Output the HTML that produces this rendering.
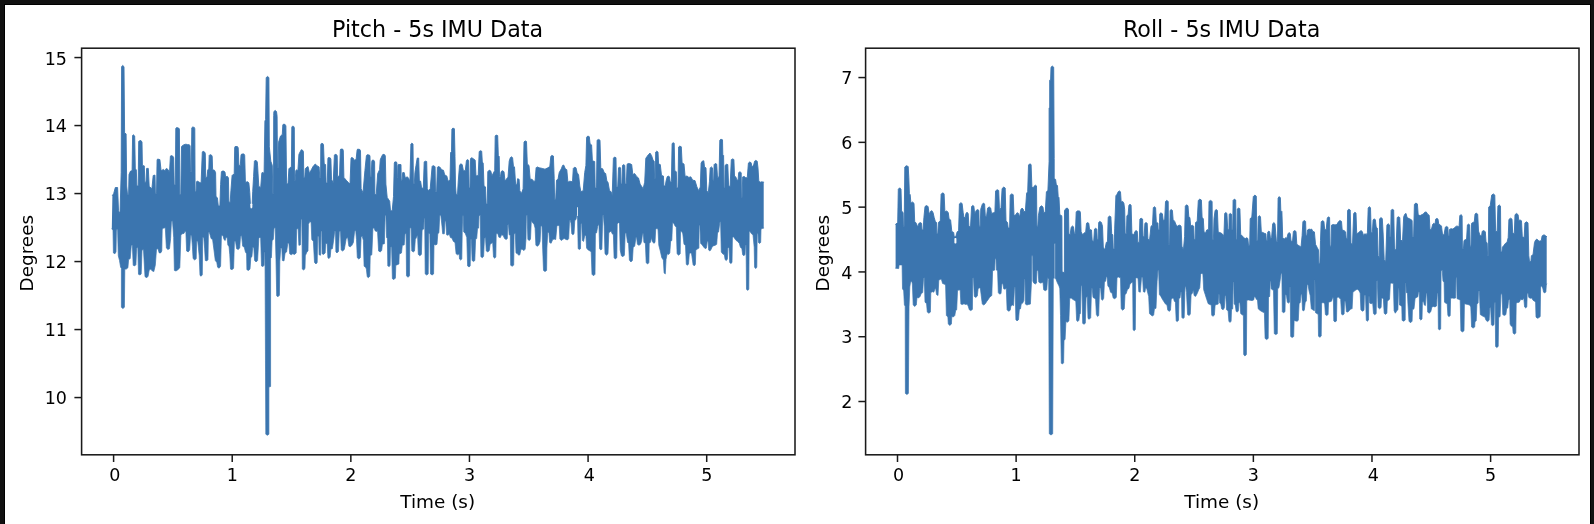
<!DOCTYPE html>
<html lang="en"><head><meta charset="utf-8"><title>IMU Data - Pitch and Roll</title>
<style>
html,body{margin:0;padding:0;background:#111111;width:1594px;height:524px;overflow:hidden}
svg{display:block;filter:blur(0.4px)}
text{font-family:"DejaVu Sans","Liberation Sans",sans-serif;fill:#000000}
.tl{font-size:18.4px}
.tn{font-size:17.5px}
.tt{font-size:22.22px}
.tk{stroke:#1a1a1a;stroke-width:1.5}
.sp{fill:none;stroke:#1a1a1a;stroke-width:1.55}
.sig{fill:#3b75af;stroke:none}
.edge{fill:none;stroke:#3b75af;stroke-linejoin:round;stroke-linecap:round}
</style></head>
<body>
<svg width="1594" height="524" viewBox="0 0 1594 524">
<rect x="0" y="0" width="1594" height="524" fill="#111111"/>
<rect x="4" y="4" width="1587" height="522" fill="#000000"/>
<rect x="5" y="5" width="1585" height="521" fill="#ffffff"/>
<polygon points="112.4,195.5 113.7,193.6 115.3,187.5 117.6,187.5 118.5,210.8 120.0,213.6 121.2,172.6 121.6,66.7 122.7,65.4 124.0,66.7 124.6,132.9 126.1,133.9 126.7,186.0 127.5,194.6 128.6,194.6 129.0,174.5 130.5,171.1 132.1,170.7 132.6,135.4 133.4,134.8 134.7,136.0 135.3,168.8 136.3,169.7 136.9,186.0 138.2,186.0 138.7,141.5 139.5,140.7 141.0,140.6 142.0,142.1 142.4,165.4 144.3,165.9 144.8,182.2 146.0,182.2 146.6,168.4 148.3,168.4 149.2,186.4 151.9,188.8 153.2,175.5 155.0,175.1 155.4,193.6 156.5,193.6 157.1,159.6 157.8,159.1 159.9,159.6 161.1,170.7 163.5,169.4 164.9,170.7 166.4,168.4 167.9,169.4 169.5,172.6 170.4,156.2 171.0,155.6 172.9,156.2 173.7,157.7 174.2,185.0 175.3,185.0 175.8,128.3 176.7,127.6 178.6,128.0 179.4,129.1 179.8,194.6 180.8,194.6 181.5,146.8 182.1,145.9 184.0,144.7 185.9,144.2 187.8,144.7 189.3,144.7 190.1,145.9 190.5,171.7 191.3,171.7 191.8,127.8 192.7,127.0 194.3,127.4 194.8,128.7 195.1,191.7 196.0,191.7 196.6,181.8 197.3,181.0 199.2,182.2 201.1,183.1 202.3,152.0 203.1,151.2 204.6,152.0 205.3,153.5 205.7,177.4 207.0,177.4 207.8,169.7 208.8,168.8 209.2,155.4 209.9,154.7 211.5,155.1 212.2,156.4 212.6,169.7 214.5,170.3 215.6,172.6 216.0,196.5 217.4,197.8 218.3,206.0 219.9,206.0 220.6,184.4 221.4,171.8 222.1,171.1 224.0,171.1 225.0,172.2 225.6,176.8 227.5,176.4 228.4,178.0 228.9,202.2 230.2,202.2 230.9,190.7 232.1,175.5 232.8,174.7 234.2,174.3 234.7,147.4 235.1,146.5 237.4,146.5 238.2,147.8 238.9,165.4 240.3,165.4 241.0,155.1 241.6,154.1 243.9,153.9 244.7,155.4 245.4,182.2 247.9,181.8 248.9,183.3 249.8,192.7 250.6,208.9 252.0,208.9 252.7,191.7 253.6,176.4 254.4,161.2 255.0,160.4 256.5,160.8 257.3,162.1 257.6,165.9 258.8,186.4 260.7,187.5 261.8,173.2 262.2,172.4 264.1,173.2 264.9,121.1 265.6,119.6 266.2,77.6 267.6,76.4 268.9,77.6 269.3,146.8 270.8,161.2 272.3,165.4 272.8,193.6 273.5,193.6 273.7,115.4 273.9,111.5 275.2,110.4 276.5,111.5 277.1,116.3 277.5,167.8 278.2,167.8 278.6,142.1 279.0,140.7 280.5,136.0 282.3,134.4 282.8,124.9 283.6,124.1 285.1,124.5 285.9,125.9 286.6,184.1 288.0,183.7 288.9,168.8 289.9,167.7 291.4,166.9 291.8,127.2 292.4,126.2 293.7,126.4 294.3,127.8 294.5,180.2 295.2,180.2 295.8,170.7 296.6,169.7 297.9,170.7 298.9,154.5 299.4,153.3 301.3,149.7 302.7,150.3 303.4,151.6 303.8,177.4 304.8,177.4 305.3,168.8 306.1,167.8 308.0,166.5 309.5,173.6 311.3,169.7 313.4,165.9 315.3,164.0 317.2,165.9 319.1,166.9 319.8,177.4 320.6,177.4 320.8,144.4 321.4,143.4 322.9,143.6 323.5,144.9 324.2,164.0 325.6,164.6 326.1,183.1 327.3,183.1 327.9,158.5 328.4,157.5 330.3,157.9 330.9,159.3 331.5,179.3 333.2,183.1 334.4,155.2 335.1,154.3 336.6,154.7 337.2,155.8 337.6,176.4 339.5,176.0 340.3,150.1 340.8,149.1 342.7,149.1 343.3,150.5 343.9,177.4 346.2,180.2 348.1,182.2 350.0,184.1 351.0,158.5 351.5,157.5 353.1,158.1 354.2,160.2 356.1,159.6 357.1,150.1 357.6,149.1 359.9,149.5 360.5,150.9 361.1,188.8 363.0,192.7 364.9,170.7 366.4,155.8 367.2,154.7 369.5,155.1 370.0,156.4 370.3,176.4 371.2,176.4 371.8,161.2 372.5,160.0 374.0,160.4 374.6,161.7 374.9,194.6 376.2,194.6 377.7,173.6 379.6,169.7 380.2,160.2 380.5,159.1 382.4,155.1 383.0,154.3 384.7,154.7 385.3,156.0 385.9,184.1 387.2,197.4 389.7,201.2 390.5,210.8 392.2,210.8 393.5,196.5 394.3,163.1 394.8,161.9 396.4,161.9 396.9,163.1 397.1,177.4 397.6,177.4 397.9,165.4 398.3,164.4 400.0,164.6 401.0,164.6 401.2,180.2 402.1,180.2 402.7,172.6 404.2,172.6 405.3,178.0 407.3,176.8 408.6,178.3 409.9,181.2 410.9,144.0 411.8,143.2 413.0,144.0 413.4,184.1 414.3,184.1 414.9,172.6 416.0,165.4 417.2,158.1 418.7,158.1 419.3,180.2 420.6,181.2 421.6,187.9 423.3,188.3 424.2,161.9 425.2,161.2 426.7,161.5 427.3,188.8 428.6,190.7 430.2,188.8 432.1,166.5 432.8,165.7 434.4,166.1 435.1,166.9 435.5,191.7 436.6,191.7 437.4,167.3 438.2,166.5 440.1,167.3 441.6,169.7 443.5,170.3 444.7,174.9 446.8,176.0 448.1,181.2 450.0,180.2 450.6,152.6 451.5,151.6 451.9,129.1 452.9,128.1 454.4,128.7 455.0,156.4 455.5,186.0 456.2,194.6 457.5,194.6 458.2,182.2 459.5,165.4 460.7,163.8 462.2,164.6 463.4,170.7 465.3,170.7 466.4,160.8 467.2,159.6 468.7,160.4 469.1,187.9 470.0,187.9 470.6,158.5 471.8,157.7 474.0,159.3 475.2,160.2 476.0,176.0 478.2,175.5 479.2,151.6 480.2,150.7 481.7,151.2 482.3,162.1 483.2,163.1 484.0,186.0 485.5,186.9 486.2,204.1 487.3,204.1 487.8,171.7 489.3,170.1 490.8,171.1 492.0,176.0 493.5,172.6 494.7,170.7 495.2,136.0 496.2,135.0 497.7,135.6 498.3,155.4 499.2,156.4 499.5,176.4 500.5,176.4 501.1,171.7 502.3,170.7 504.0,171.7 505.0,181.2 506.9,178.3 508.0,177.4 509.2,161.2 510.3,157.7 511.3,156.8 512.6,157.7 513.4,165.9 514.5,166.9 515.6,184.1 516.8,185.0 517.6,178.7 519.1,179.3 519.8,190.7 521.4,193.6 523.1,188.8 524.0,142.1 525.0,140.9 526.5,141.5 527.3,164.0 529.0,165.4 530.2,179.3 532.1,179.3 533.6,181.2 535.1,181.2 536.1,167.8 537.0,166.9 539.3,167.8 542.2,168.4 545.0,169.2 547.9,167.8 549.8,166.5 550.8,156.4 551.7,155.4 553.4,156.0 554.2,178.3 554.6,199.3 555.7,199.3 556.5,180.2 558.0,179.3 559.2,172.6 561.3,168.8 562.6,165.4 563.7,165.0 565.3,168.8 566.8,169.7 567.9,182.2 569.8,181.2 572.5,181.8 573.3,168.4 574.4,167.3 576.0,167.8 577.1,172.6 578.6,174.9 579.8,186.0 580.9,191.7 583.2,190.7 584.7,172.6 585.9,165.4 586.6,137.3 587.8,136.0 589.3,136.7 590.1,144.0 591.6,144.9 592.4,160.8 594.7,161.5 595.2,187.9 596.5,187.9 597.1,140.2 598.5,139.4 600.0,140.2 600.8,168.4 602.7,168.8 604.2,172.6 605.7,173.6 606.9,181.2 608.0,182.2 609.5,190.7 611.1,191.7 612.2,195.5 613.4,158.3 614.5,157.0 616.0,157.7 616.4,186.9 617.7,186.9 618.5,167.8 619.5,167.3 620.6,167.8 621.0,184.1 621.9,184.1 622.5,165.4 623.7,164.6 624.8,165.4 625.2,184.1 626.3,184.1 627.1,164.2 628.2,163.5 630.2,163.8 631.7,164.6 632.8,174.5 634.7,173.6 636.6,176.4 638.5,178.0 640.1,184.1 642.0,186.9 643.1,188.8 644.7,182.2 645.8,158.3 647.1,156.4 648.5,154.5 650.0,153.1 651.5,155.4 653.1,160.2 654.2,161.2 654.6,178.3 655.3,178.3 655.7,152.0 656.7,151.2 658.0,152.0 658.6,164.0 660.3,164.6 661.5,175.5 663.4,176.0 663.9,186.0 665.3,186.0 666.0,181.2 667.2,176.8 668.1,176.0 669.5,176.8 670.2,182.2 671.4,181.2 672.1,143.6 673.1,142.7 674.2,143.2 674.8,170.7 676.3,171.7 676.8,187.9 678.0,187.9 678.6,147.0 679.8,146.1 681.3,146.8 682.1,163.1 684.0,164.0 685.1,176.4 687.0,176.0 688.9,177.4 690.8,176.8 692.7,180.2 695.0,180.6 696.9,186.9 698.7,190.7 700.3,187.0 701.1,163.1 702.2,161.2 703.8,160.8 704.5,166.9 706.0,167.9 706.8,190.8 708.3,192.7 709.5,181.2 710.2,167.9 711.4,166.9 712.5,167.9 712.9,180.3 713.7,180.3 714.1,164.6 715.2,163.5 716.7,164.1 717.5,177.4 719.0,176.9 719.8,140.2 720.9,139.2 722.5,139.8 722.8,154.5 723.6,155.5 724.0,187.9 724.8,187.9 725.1,165.4 726.3,164.3 727.8,164.6 728.6,186.0 730.1,186.4 731.3,159.7 732.4,158.9 733.9,159.5 734.5,176.1 735.8,176.9 737.0,180.3 738.1,179.9 738.7,172.7 739.7,171.7 741.2,172.7 741.4,197.5 742.1,197.5 742.7,176.9 744.4,176.5 745.8,178.0 747.3,177.4 748.4,163.1 749.6,162.0 751.1,162.7 751.9,166.5 753.4,166.0 754.6,161.2 755.7,160.4 757.2,161.2 758.0,167.9 758.8,181.2 760.3,182.2 761.6,181.8 763.7,182.2 763.7,228.1 762.2,228.5 761.0,229.0 760.7,242.4 759.5,243.4 758.4,242.4 758.0,233.4 757.2,233.8 756.8,267.2 755.7,268.6 754.6,267.2 754.2,247.2 753.0,234.8 751.5,233.8 750.4,231.9 749.2,231.0 748.8,289.2 747.7,290.4 746.5,289.2 746.1,244.9 745.4,245.3 745.0,254.4 743.9,255.8 742.7,254.8 741.9,248.7 740.4,247.2 739.3,243.4 737.7,241.5 736.2,240.5 734.7,238.6 733.5,236.7 732.4,237.6 732.0,262.5 730.9,263.6 729.7,262.5 729.0,247.2 727.8,248.1 727.4,259.0 726.3,260.6 725.1,259.6 724.4,254.8 722.8,253.9 721.3,252.0 720.6,221.4 719.8,222.4 718.6,231.9 717.5,232.9 716.7,244.3 715.2,245.3 713.7,245.7 712.2,246.8 711.0,249.5 709.9,251.0 708.7,250.1 708.0,241.1 707.2,241.5 706.4,248.1 705.3,248.7 703.8,247.2 702.2,244.9 700.7,243.4 699.8,225.2 699.1,225.2 698.9,248.1 697.3,249.1 695.8,250.0 695.4,264.3 694.3,265.9 693.1,264.7 691.6,253.8 690.5,252.9 689.3,253.8 688.5,264.0 687.4,265.3 686.3,264.3 685.5,245.3 684.0,244.3 682.8,233.8 681.7,231.5 680.5,230.9 680.2,253.8 678.6,255.2 677.1,253.8 676.3,227.1 675.2,226.2 673.7,223.3 672.5,222.4 671.8,240.5 670.6,241.4 669.8,252.9 668.7,254.4 667.2,253.8 666.0,259.6 665.3,273.9 664.1,272.9 663.4,260.1 661.8,257.7 660.3,251.0 658.8,245.3 658.0,229.0 656.9,228.5 655.7,229.0 655.0,242.4 653.8,243.3 652.3,241.4 651.5,237.6 650.4,242.4 649.2,243.3 648.9,262.4 647.7,264.0 646.2,262.8 645.4,243.3 643.9,242.4 643.4,233.8 642.5,233.8 641.6,241.4 640.5,244.3 638.9,245.3 637.4,244.3 636.6,237.2 635.9,237.6 634.7,246.2 633.2,247.2 632.4,260.5 630.9,262.0 629.4,260.1 628.6,243.3 627.5,242.4 626.3,233.4 625.2,232.8 624.4,255.2 622.9,256.7 621.4,255.8 620.2,250.0 619.5,223.3 618.3,222.7 617.2,223.9 616.8,257.7 615.3,259.0 614.1,257.7 613.4,234.8 612.2,233.8 611.1,230.9 609.9,231.9 608.8,232.8 608.0,253.8 606.5,255.2 605.0,253.8 604.2,226.2 603.4,215.1 602.7,215.7 601.9,249.1 600.8,250.0 599.6,248.7 598.9,223.9 597.7,226.2 596.6,232.8 595.4,233.8 595.0,274.3 593.5,275.8 592.0,274.3 591.2,251.9 590.1,251.0 588.2,250.0 586.6,248.1 585.9,235.3 584.7,235.7 583.6,241.4 582.4,240.5 581.7,223.3 580.9,223.9 580.5,248.7 579.4,249.5 578.2,248.7 577.5,215.1 576.7,215.7 576.0,219.5 574.8,220.4 574.0,233.8 572.9,234.8 571.8,233.8 571.0,223.3 570.2,220.1 569.5,220.4 568.7,238.6 567.6,239.9 566.0,239.5 564.5,238.6 563.0,239.1 561.5,240.5 559.9,239.1 559.2,225.8 558.0,225.2 556.9,226.2 555.7,239.5 554.2,239.1 552.7,239.5 551.1,243.3 549.6,242.4 548.9,232.3 547.7,232.8 546.9,248.1 546.6,270.4 545.0,271.6 543.5,270.4 542.7,249.1 542.0,225.8 540.8,226.2 540.1,241.4 538.9,244.9 537.4,246.2 535.9,245.3 535.1,228.1 534.0,224.3 532.4,222.4 531.3,220.4 530.5,239.1 529.4,240.5 527.9,239.5 527.1,215.1 526.3,215.7 526.0,238.6 525.2,249.1 524.0,250.6 522.5,249.5 521.0,249.1 519.8,254.8 518.7,255.2 517.6,253.8 516.0,252.9 515.3,233.4 514.1,233.8 513.7,265.1 512.2,266.2 510.7,265.3 510.3,235.3 509.2,234.8 508.4,224.6 507.6,225.2 507.3,238.6 506.1,239.5 504.6,238.6 503.1,235.3 501.5,234.8 500.4,237.6 498.9,237.2 497.7,233.4 496.2,233.8 495.8,257.1 494.7,258.2 493.5,257.1 492.7,242.4 491.6,243.3 490.1,244.3 489.3,250.6 487.8,251.9 486.3,251.0 485.5,237.6 484.4,238.6 483.6,256.3 482.4,257.7 480.9,256.7 480.2,215.1 479.0,215.7 478.6,228.1 477.5,228.5 476.7,238.6 475.6,239.1 474.8,260.5 473.7,261.5 472.1,260.5 471.4,239.5 470.6,239.5 470.2,265.9 469.1,267.0 467.6,265.9 466.8,237.6 465.3,233.4 463.7,231.9 463.3,215.7 462.7,215.7 462.2,232.8 461.8,259.0 460.7,260.1 459.5,259.0 459.2,253.8 457.6,254.8 456.1,253.8 455.0,242.4 453.4,241.4 451.9,238.0 450.4,237.6 449.2,233.8 448.1,235.3 446.6,234.8 445.8,221.4 445.0,220.8 444.3,233.8 442.7,233.8 442.0,226.2 440.8,215.1 439.7,215.7 438.9,232.8 437.8,233.8 437.0,244.3 435.5,244.9 434.0,244.3 433.6,273.9 432.1,275.0 430.5,273.9 429.8,233.4 428.6,233.8 428.2,273.9 426.7,275.0 425.2,273.9 424.7,218.5 424.1,218.5 423.7,229.0 422.1,230.0 421.4,254.4 419.8,255.8 418.3,254.4 417.6,234.8 416.4,237.6 415.3,239.5 414.5,251.0 413.4,251.9 411.8,251.0 411.1,227.7 409.9,228.1 409.5,275.8 408.0,277.3 406.5,275.8 406.1,233.4 405.0,233.8 404.2,244.9 402.3,245.3 401.5,252.9 400.0,253.8 399.2,253.8 398.9,264.0 397.3,264.7 395.8,265.3 395.4,278.1 393.9,279.6 392.4,278.7 391.6,246.8 390.5,247.2 390.1,265.3 389.3,266.6 387.8,265.9 387.4,238.6 386.6,237.6 385.9,215.1 385.1,215.7 384.4,243.7 382.4,244.3 381.7,250.6 380.2,251.9 378.6,251.0 377.5,230.4 376.7,231.5 375.2,230.9 374.0,227.7 372.9,228.5 371.8,254.8 370.2,255.8 369.8,276.2 368.3,277.7 367.2,276.7 366.4,269.1 365.6,267.2 364.1,266.2 363.4,240.5 362.2,236.1 361.1,236.7 360.3,257.7 358.8,259.0 357.3,257.7 356.5,239.5 355.7,230.4 354.6,230.9 353.4,242.4 351.9,245.3 350.4,246.8 348.9,246.2 347.7,237.6 346.2,238.6 344.3,249.5 342.7,251.0 341.2,250.0 340.5,230.9 339.3,231.5 338.5,251.4 337.0,252.9 335.9,251.9 335.5,230.9 334.7,230.9 334.0,237.6 332.4,248.7 330.9,249.1 330.2,257.1 329.0,258.6 327.9,257.7 327.1,243.3 325.6,243.7 325.2,252.9 323.7,254.4 322.1,253.8 321.8,230.9 321.0,230.9 320.6,255.2 319.1,254.8 318.7,236.1 317.6,236.7 317.2,262.4 316.0,264.0 314.5,262.4 313.4,241.4 311.8,239.5 311.1,222.4 309.9,221.4 308.4,224.3 308.0,251.0 306.9,251.9 305.3,255.8 305.0,268.2 303.8,270.1 302.3,269.1 301.9,218.9 301.1,219.5 300.4,244.9 298.9,245.3 298.1,228.5 296.6,229.0 296.2,252.9 294.7,254.4 292.7,253.8 291.2,254.8 289.7,253.8 288.9,243.0 287.8,243.3 286.6,251.9 285.1,252.9 284.0,260.9 282.4,260.5 281.8,248.1 280.7,248.1 279.8,261.5 279.4,295.3 277.9,296.8 276.7,295.8 276.0,259.6 275.2,227.7 274.0,228.1 273.3,239.5 272.1,240.5 271.4,257.7 270.6,258.6 270.6,386.5 268.9,387.0 268.9,434.2 267.4,435.3 265.8,434.2 265.0,251.9 264.4,251.9 264.1,265.3 263.0,266.6 261.5,265.9 260.7,238.6 259.9,237.2 258.8,238.6 257.6,260.5 256.1,262.0 254.6,260.5 253.8,247.5 252.7,247.2 251.9,256.7 250.8,257.7 250.0,269.1 248.5,270.4 246.9,269.7 246.6,253.8 245.4,251.9 244.3,247.2 242.7,246.2 241.6,235.7 240.5,236.1 239.7,248.1 238.2,249.5 236.6,248.7 235.5,241.1 234.4,241.4 233.6,268.2 232.1,269.7 230.5,269.1 229.8,254.8 229.0,246.2 227.9,245.3 227.1,237.6 226.0,237.2 225.2,240.5 224.0,239.5 222.9,235.3 221.4,235.7 220.6,266.2 219.1,268.2 217.6,267.2 216.8,262.4 215.3,260.5 214.1,251.0 212.6,239.5 211.1,238.6 209.5,232.8 208.4,231.9 208.0,259.6 206.9,260.9 205.3,260.5 204.6,248.1 203.8,237.6 202.7,237.2 202.3,274.8 201.1,276.2 200.0,275.4 199.2,255.8 197.7,241.1 196.6,241.4 196.2,258.6 194.7,260.1 193.1,258.6 192.4,246.2 191.6,235.7 190.5,235.3 189.7,250.0 188.2,251.9 186.6,251.0 185.9,231.9 185.1,230.9 184.0,233.4 182.4,233.8 180.9,234.8 179.8,267.8 177.9,269.7 176.0,271.0 174.4,270.4 173.7,237.6 172.5,220.8 171.4,221.4 170.6,238.6 169.5,248.7 167.9,249.5 166.4,248.1 165.3,227.7 163.7,228.1 162.2,229.0 161.8,251.0 160.7,252.9 159.2,252.9 158.0,248.7 156.5,249.1 155.3,265.3 153.8,271.6 152.3,271.0 150.8,269.1 149.2,270.1 148.1,276.2 146.8,277.7 145.0,276.7 143.5,249.5 142.0,250.0 141.2,273.9 140.1,275.0 138.5,274.3 137.8,247.5 136.6,248.1 135.9,264.7 134.7,265.9 133.2,265.3 132.4,244.9 131.3,245.3 130.2,258.6 128.6,259.6 127.9,267.8 126.3,269.1 124.8,269.1 124.4,307.3 122.9,308.6 121.4,307.3 121.4,268.2 120.6,267.2 119.5,260.5 118.3,255.8 117.6,229.0 116.4,230.0 116.0,251.9 114.9,253.8 113.4,252.9 113.0,230.0 111.8,229.0" class="sig"/>
<polyline points="112.4,195.5 113.7,193.6 115.3,187.5 117.6,187.5 118.5,210.8 120.0,213.6 121.2,172.6 121.6,66.7 122.7,65.4 124.0,66.7 124.6,132.9 126.1,133.9 126.7,186.0 127.5,194.6 128.6,194.6 129.0,174.5 130.5,171.1 132.1,170.7 132.6,135.4 133.4,134.8 134.7,136.0 135.3,168.8 136.3,169.7 136.9,186.0 138.2,186.0 138.7,141.5 139.5,140.7 141.0,140.6 142.0,142.1 142.4,165.4 144.3,165.9 144.8,182.2 146.0,182.2 146.6,168.4 148.3,168.4 149.2,186.4 151.9,188.8 153.2,175.5 155.0,175.1 155.4,193.6 156.5,193.6 157.1,159.6 157.8,159.1 159.9,159.6 161.1,170.7 163.5,169.4 164.9,170.7 166.4,168.4 167.9,169.4 169.5,172.6 170.4,156.2 171.0,155.6 172.9,156.2 173.7,157.7 174.2,185.0 175.3,185.0 175.8,128.3 176.7,127.6 178.6,128.0 179.4,129.1 179.8,194.6 180.8,194.6 181.5,146.8 182.1,145.9 184.0,144.7 185.9,144.2 187.8,144.7 189.3,144.7 190.1,145.9 190.5,171.7 191.3,171.7 191.8,127.8 192.7,127.0 194.3,127.4 194.8,128.7 195.1,191.7 196.0,191.7 196.6,181.8 197.3,181.0 199.2,182.2 201.1,183.1 202.3,152.0 203.1,151.2 204.6,152.0 205.3,153.5 205.7,177.4 207.0,177.4 207.8,169.7 208.8,168.8 209.2,155.4 209.9,154.7 211.5,155.1 212.2,156.4 212.6,169.7 214.5,170.3 215.6,172.6 216.0,196.5 217.4,197.8 218.3,206.0 219.9,206.0 220.6,184.4 221.4,171.8 222.1,171.1 224.0,171.1 225.0,172.2 225.6,176.8 227.5,176.4 228.4,178.0 228.9,202.2 230.2,202.2 230.9,190.7 232.1,175.5 232.8,174.7 234.2,174.3 234.7,147.4 235.1,146.5 237.4,146.5 238.2,147.8 238.9,165.4 240.3,165.4 241.0,155.1 241.6,154.1 243.9,153.9 244.7,155.4 245.4,182.2 247.9,181.8 248.9,183.3 249.8,192.7 250.6,208.9 252.0,208.9 252.7,191.7 253.6,176.4 254.4,161.2 255.0,160.4 256.5,160.8 257.3,162.1 257.6,165.9 258.8,186.4 260.7,187.5 261.8,173.2 262.2,172.4 264.1,173.2 264.9,121.1 265.6,119.6 266.2,77.6 267.6,76.4 268.9,77.6 269.3,146.8 270.8,161.2 272.3,165.4 272.8,193.6 273.5,193.6 273.7,115.4 273.9,111.5 275.2,110.4 276.5,111.5 277.1,116.3 277.5,167.8 278.2,167.8 278.6,142.1 279.0,140.7 280.5,136.0 282.3,134.4 282.8,124.9 283.6,124.1 285.1,124.5 285.9,125.9 286.6,184.1 288.0,183.7 288.9,168.8 289.9,167.7 291.4,166.9 291.8,127.2 292.4,126.2 293.7,126.4 294.3,127.8 294.5,180.2 295.2,180.2 295.8,170.7 296.6,169.7 297.9,170.7 298.9,154.5 299.4,153.3 301.3,149.7 302.7,150.3 303.4,151.6 303.8,177.4 304.8,177.4 305.3,168.8 306.1,167.8 308.0,166.5 309.5,173.6 311.3,169.7 313.4,165.9 315.3,164.0 317.2,165.9 319.1,166.9 319.8,177.4 320.6,177.4 320.8,144.4 321.4,143.4 322.9,143.6 323.5,144.9 324.2,164.0 325.6,164.6 326.1,183.1 327.3,183.1 327.9,158.5 328.4,157.5 330.3,157.9 330.9,159.3 331.5,179.3 333.2,183.1 334.4,155.2 335.1,154.3 336.6,154.7 337.2,155.8 337.6,176.4 339.5,176.0 340.3,150.1 340.8,149.1 342.7,149.1 343.3,150.5 343.9,177.4 346.2,180.2 348.1,182.2 350.0,184.1 351.0,158.5 351.5,157.5 353.1,158.1 354.2,160.2 356.1,159.6 357.1,150.1 357.6,149.1 359.9,149.5 360.5,150.9 361.1,188.8 363.0,192.7 364.9,170.7 366.4,155.8 367.2,154.7 369.5,155.1 370.0,156.4 370.3,176.4 371.2,176.4 371.8,161.2 372.5,160.0 374.0,160.4 374.6,161.7 374.9,194.6 376.2,194.6 377.7,173.6 379.6,169.7 380.2,160.2 380.5,159.1 382.4,155.1 383.0,154.3 384.7,154.7 385.3,156.0 385.9,184.1 387.2,197.4 389.7,201.2 390.5,210.8 392.2,210.8 393.5,196.5 394.3,163.1 394.8,161.9 396.4,161.9 396.9,163.1 397.1,177.4 397.6,177.4 397.9,165.4 398.3,164.4 400.0,164.6 401.0,164.6 401.2,180.2 402.1,180.2 402.7,172.6 404.2,172.6 405.3,178.0 407.3,176.8 408.6,178.3 409.9,181.2 410.9,144.0 411.8,143.2 413.0,144.0 413.4,184.1 414.3,184.1 414.9,172.6 416.0,165.4 417.2,158.1 418.7,158.1 419.3,180.2 420.6,181.2 421.6,187.9 423.3,188.3 424.2,161.9 425.2,161.2 426.7,161.5 427.3,188.8 428.6,190.7 430.2,188.8 432.1,166.5 432.8,165.7 434.4,166.1 435.1,166.9 435.5,191.7 436.6,191.7 437.4,167.3 438.2,166.5 440.1,167.3 441.6,169.7 443.5,170.3 444.7,174.9 446.8,176.0 448.1,181.2 450.0,180.2 450.6,152.6 451.5,151.6 451.9,129.1 452.9,128.1 454.4,128.7 455.0,156.4 455.5,186.0 456.2,194.6 457.5,194.6 458.2,182.2 459.5,165.4 460.7,163.8 462.2,164.6 463.4,170.7 465.3,170.7 466.4,160.8 467.2,159.6 468.7,160.4 469.1,187.9 470.0,187.9 470.6,158.5 471.8,157.7 474.0,159.3 475.2,160.2 476.0,176.0 478.2,175.5 479.2,151.6 480.2,150.7 481.7,151.2 482.3,162.1 483.2,163.1 484.0,186.0 485.5,186.9 486.2,204.1 487.3,204.1 487.8,171.7 489.3,170.1 490.8,171.1 492.0,176.0 493.5,172.6 494.7,170.7 495.2,136.0 496.2,135.0 497.7,135.6 498.3,155.4 499.2,156.4 499.5,176.4 500.5,176.4 501.1,171.7 502.3,170.7 504.0,171.7 505.0,181.2 506.9,178.3 508.0,177.4 509.2,161.2 510.3,157.7 511.3,156.8 512.6,157.7 513.4,165.9 514.5,166.9 515.6,184.1 516.8,185.0 517.6,178.7 519.1,179.3 519.8,190.7 521.4,193.6 523.1,188.8 524.0,142.1 525.0,140.9 526.5,141.5 527.3,164.0 529.0,165.4 530.2,179.3 532.1,179.3 533.6,181.2 535.1,181.2 536.1,167.8 537.0,166.9 539.3,167.8 542.2,168.4 545.0,169.2 547.9,167.8 549.8,166.5 550.8,156.4 551.7,155.4 553.4,156.0 554.2,178.3 554.6,199.3 555.7,199.3 556.5,180.2 558.0,179.3 559.2,172.6 561.3,168.8 562.6,165.4 563.7,165.0 565.3,168.8 566.8,169.7 567.9,182.2 569.8,181.2 572.5,181.8 573.3,168.4 574.4,167.3 576.0,167.8 577.1,172.6 578.6,174.9 579.8,186.0 580.9,191.7 583.2,190.7 584.7,172.6 585.9,165.4 586.6,137.3 587.8,136.0 589.3,136.7 590.1,144.0 591.6,144.9 592.4,160.8 594.7,161.5 595.2,187.9 596.5,187.9 597.1,140.2 598.5,139.4 600.0,140.2 600.8,168.4 602.7,168.8 604.2,172.6 605.7,173.6 606.9,181.2 608.0,182.2 609.5,190.7 611.1,191.7 612.2,195.5 613.4,158.3 614.5,157.0 616.0,157.7 616.4,186.9 617.7,186.9 618.5,167.8 619.5,167.3 620.6,167.8 621.0,184.1 621.9,184.1 622.5,165.4 623.7,164.6 624.8,165.4 625.2,184.1 626.3,184.1 627.1,164.2 628.2,163.5 630.2,163.8 631.7,164.6 632.8,174.5 634.7,173.6 636.6,176.4 638.5,178.0 640.1,184.1 642.0,186.9 643.1,188.8 644.7,182.2 645.8,158.3 647.1,156.4 648.5,154.5 650.0,153.1 651.5,155.4 653.1,160.2 654.2,161.2 654.6,178.3 655.3,178.3 655.7,152.0 656.7,151.2 658.0,152.0 658.6,164.0 660.3,164.6 661.5,175.5 663.4,176.0 663.9,186.0 665.3,186.0 666.0,181.2 667.2,176.8 668.1,176.0 669.5,176.8 670.2,182.2 671.4,181.2 672.1,143.6 673.1,142.7 674.2,143.2 674.8,170.7 676.3,171.7 676.8,187.9 678.0,187.9 678.6,147.0 679.8,146.1 681.3,146.8 682.1,163.1 684.0,164.0 685.1,176.4 687.0,176.0 688.9,177.4 690.8,176.8 692.7,180.2 695.0,180.6 696.9,186.9 698.7,190.7 700.3,187.0 701.1,163.1 702.2,161.2 703.8,160.8 704.5,166.9 706.0,167.9 706.8,190.8 708.3,192.7 709.5,181.2 710.2,167.9 711.4,166.9 712.5,167.9 712.9,180.3 713.7,180.3 714.1,164.6 715.2,163.5 716.7,164.1 717.5,177.4 719.0,176.9 719.8,140.2 720.9,139.2 722.5,139.8 722.8,154.5 723.6,155.5 724.0,187.9 724.8,187.9 725.1,165.4 726.3,164.3 727.8,164.6 728.6,186.0 730.1,186.4 731.3,159.7 732.4,158.9 733.9,159.5 734.5,176.1 735.8,176.9 737.0,180.3 738.1,179.9 738.7,172.7 739.7,171.7 741.2,172.7 741.4,197.5 742.1,197.5 742.7,176.9 744.4,176.5 745.8,178.0 747.3,177.4 748.4,163.1 749.6,162.0 751.1,162.7 751.9,166.5 753.4,166.0 754.6,161.2 755.7,160.4 757.2,161.2 758.0,167.9 758.8,181.2 760.3,182.2 761.6,181.8 763.7,182.2" class="edge" stroke-width="0.9"/>
<polyline points="111.8,229.0 113.0,230.0 113.4,252.9 114.9,253.8 116.0,251.9 116.4,230.0 117.6,229.0 118.3,255.8 119.5,260.5 120.6,267.2 121.4,268.2 121.4,307.3 122.9,308.6 124.4,307.3 124.8,269.1 126.3,269.1 127.9,267.8 128.6,259.6 130.2,258.6 131.3,245.3 132.4,244.9 133.2,265.3 134.7,265.9 135.9,264.7 136.6,248.1 137.8,247.5 138.5,274.3 140.1,275.0 141.2,273.9 142.0,250.0 143.5,249.5 145.0,276.7 146.8,277.7 148.1,276.2 149.2,270.1 150.8,269.1 152.3,271.0 153.8,271.6 155.3,265.3 156.5,249.1 158.0,248.7 159.2,252.9 160.7,252.9 161.8,251.0 162.2,229.0 163.7,228.1 165.3,227.7 166.4,248.1 167.9,249.5 169.5,248.7 170.6,238.6 171.4,221.4 172.5,220.8 173.7,237.6 174.4,270.4 176.0,271.0 177.9,269.7 179.8,267.8 180.9,234.8 182.4,233.8 184.0,233.4 185.1,230.9 185.9,231.9 186.6,251.0 188.2,251.9 189.7,250.0 190.5,235.3 191.6,235.7 192.4,246.2 193.1,258.6 194.7,260.1 196.2,258.6 196.6,241.4 197.7,241.1 199.2,255.8 200.0,275.4 201.1,276.2 202.3,274.8 202.7,237.2 203.8,237.6 204.6,248.1 205.3,260.5 206.9,260.9 208.0,259.6 208.4,231.9 209.5,232.8 211.1,238.6 212.6,239.5 214.1,251.0 215.3,260.5 216.8,262.4 217.6,267.2 219.1,268.2 220.6,266.2 221.4,235.7 222.9,235.3 224.0,239.5 225.2,240.5 226.0,237.2 227.1,237.6 227.9,245.3 229.0,246.2 229.8,254.8 230.5,269.1 232.1,269.7 233.6,268.2 234.4,241.4 235.5,241.1 236.6,248.7 238.2,249.5 239.7,248.1 240.5,236.1 241.6,235.7 242.7,246.2 244.3,247.2 245.4,251.9 246.6,253.8 246.9,269.7 248.5,270.4 250.0,269.1 250.8,257.7 251.9,256.7 252.7,247.2 253.8,247.5 254.6,260.5 256.1,262.0 257.6,260.5 258.8,238.6 259.9,237.2 260.7,238.6 261.5,265.9 263.0,266.6 264.1,265.3 264.4,251.9 265.0,251.9 265.8,434.2 267.4,435.3 268.9,434.2 268.9,387.0 270.6,386.5 270.6,258.6 271.4,257.7 272.1,240.5 273.3,239.5 274.0,228.1 275.2,227.7 276.0,259.6 276.7,295.8 277.9,296.8 279.4,295.3 279.8,261.5 280.7,248.1 281.8,248.1 282.4,260.5 284.0,260.9 285.1,252.9 286.6,251.9 287.8,243.3 288.9,243.0 289.7,253.8 291.2,254.8 292.7,253.8 294.7,254.4 296.2,252.9 296.6,229.0 298.1,228.5 298.9,245.3 300.4,244.9 301.1,219.5 301.9,218.9 302.3,269.1 303.8,270.1 305.0,268.2 305.3,255.8 306.9,251.9 308.0,251.0 308.4,224.3 309.9,221.4 311.1,222.4 311.8,239.5 313.4,241.4 314.5,262.4 316.0,264.0 317.2,262.4 317.6,236.7 318.7,236.1 319.1,254.8 320.6,255.2 321.0,230.9 321.8,230.9 322.1,253.8 323.7,254.4 325.2,252.9 325.6,243.7 327.1,243.3 327.9,257.7 329.0,258.6 330.2,257.1 330.9,249.1 332.4,248.7 334.0,237.6 334.7,230.9 335.5,230.9 335.9,251.9 337.0,252.9 338.5,251.4 339.3,231.5 340.5,230.9 341.2,250.0 342.7,251.0 344.3,249.5 346.2,238.6 347.7,237.6 348.9,246.2 350.4,246.8 351.9,245.3 353.4,242.4 354.6,230.9 355.7,230.4 356.5,239.5 357.3,257.7 358.8,259.0 360.3,257.7 361.1,236.7 362.2,236.1 363.4,240.5 364.1,266.2 365.6,267.2 366.4,269.1 367.2,276.7 368.3,277.7 369.8,276.2 370.2,255.8 371.8,254.8 372.9,228.5 374.0,227.7 375.2,230.9 376.7,231.5 377.5,230.4 378.6,251.0 380.2,251.9 381.7,250.6 382.4,244.3 384.4,243.7 385.1,215.7 385.9,215.1 386.6,237.6 387.4,238.6 387.8,265.9 389.3,266.6 390.1,265.3 390.5,247.2 391.6,246.8 392.4,278.7 393.9,279.6 395.4,278.1 395.8,265.3 397.3,264.7 398.9,264.0 399.2,253.8 400.0,253.8 401.5,252.9 402.3,245.3 404.2,244.9 405.0,233.8 406.1,233.4 406.5,275.8 408.0,277.3 409.5,275.8 409.9,228.1 411.1,227.7 411.8,251.0 413.4,251.9 414.5,251.0 415.3,239.5 416.4,237.6 417.6,234.8 418.3,254.4 419.8,255.8 421.4,254.4 422.1,230.0 423.7,229.0 424.1,218.5 424.7,218.5 425.2,273.9 426.7,275.0 428.2,273.9 428.6,233.8 429.8,233.4 430.5,273.9 432.1,275.0 433.6,273.9 434.0,244.3 435.5,244.9 437.0,244.3 437.8,233.8 438.9,232.8 439.7,215.7 440.8,215.1 442.0,226.2 442.7,233.8 444.3,233.8 445.0,220.8 445.8,221.4 446.6,234.8 448.1,235.3 449.2,233.8 450.4,237.6 451.9,238.0 453.4,241.4 455.0,242.4 456.1,253.8 457.6,254.8 459.2,253.8 459.5,259.0 460.7,260.1 461.8,259.0 462.2,232.8 462.7,215.7 463.3,215.7 463.7,231.9 465.3,233.4 466.8,237.6 467.6,265.9 469.1,267.0 470.2,265.9 470.6,239.5 471.4,239.5 472.1,260.5 473.7,261.5 474.8,260.5 475.6,239.1 476.7,238.6 477.5,228.5 478.6,228.1 479.0,215.7 480.2,215.1 480.9,256.7 482.4,257.7 483.6,256.3 484.4,238.6 485.5,237.6 486.3,251.0 487.8,251.9 489.3,250.6 490.1,244.3 491.6,243.3 492.7,242.4 493.5,257.1 494.7,258.2 495.8,257.1 496.2,233.8 497.7,233.4 498.9,237.2 500.4,237.6 501.5,234.8 503.1,235.3 504.6,238.6 506.1,239.5 507.3,238.6 507.6,225.2 508.4,224.6 509.2,234.8 510.3,235.3 510.7,265.3 512.2,266.2 513.7,265.1 514.1,233.8 515.3,233.4 516.0,252.9 517.6,253.8 518.7,255.2 519.8,254.8 521.0,249.1 522.5,249.5 524.0,250.6 525.2,249.1 526.0,238.6 526.3,215.7 527.1,215.1 527.9,239.5 529.4,240.5 530.5,239.1 531.3,220.4 532.4,222.4 534.0,224.3 535.1,228.1 535.9,245.3 537.4,246.2 538.9,244.9 540.1,241.4 540.8,226.2 542.0,225.8 542.7,249.1 543.5,270.4 545.0,271.6 546.6,270.4 546.9,248.1 547.7,232.8 548.9,232.3 549.6,242.4 551.1,243.3 552.7,239.5 554.2,239.1 555.7,239.5 556.9,226.2 558.0,225.2 559.2,225.8 559.9,239.1 561.5,240.5 563.0,239.1 564.5,238.6 566.0,239.5 567.6,239.9 568.7,238.6 569.5,220.4 570.2,220.1 571.0,223.3 571.8,233.8 572.9,234.8 574.0,233.8 574.8,220.4 576.0,219.5 576.7,215.7 577.5,215.1 578.2,248.7 579.4,249.5 580.5,248.7 580.9,223.9 581.7,223.3 582.4,240.5 583.6,241.4 584.7,235.7 585.9,235.3 586.6,248.1 588.2,250.0 590.1,251.0 591.2,251.9 592.0,274.3 593.5,275.8 595.0,274.3 595.4,233.8 596.6,232.8 597.7,226.2 598.9,223.9 599.6,248.7 600.8,250.0 601.9,249.1 602.7,215.7 603.4,215.1 604.2,226.2 605.0,253.8 606.5,255.2 608.0,253.8 608.8,232.8 609.9,231.9 611.1,230.9 612.2,233.8 613.4,234.8 614.1,257.7 615.3,259.0 616.8,257.7 617.2,223.9 618.3,222.7 619.5,223.3 620.2,250.0 621.4,255.8 622.9,256.7 624.4,255.2 625.2,232.8 626.3,233.4 627.5,242.4 628.6,243.3 629.4,260.1 630.9,262.0 632.4,260.5 633.2,247.2 634.7,246.2 635.9,237.6 636.6,237.2 637.4,244.3 638.9,245.3 640.5,244.3 641.6,241.4 642.5,233.8 643.4,233.8 643.9,242.4 645.4,243.3 646.2,262.8 647.7,264.0 648.9,262.4 649.2,243.3 650.4,242.4 651.5,237.6 652.3,241.4 653.8,243.3 655.0,242.4 655.7,229.0 656.9,228.5 658.0,229.0 658.8,245.3 660.3,251.0 661.8,257.7 663.4,260.1 664.1,272.9 665.3,273.9 666.0,259.6 667.2,253.8 668.7,254.4 669.8,252.9 670.6,241.4 671.8,240.5 672.5,222.4 673.7,223.3 675.2,226.2 676.3,227.1 677.1,253.8 678.6,255.2 680.2,253.8 680.5,230.9 681.7,231.5 682.8,233.8 684.0,244.3 685.5,245.3 686.3,264.3 687.4,265.3 688.5,264.0 689.3,253.8 690.5,252.9 691.6,253.8 693.1,264.7 694.3,265.9 695.4,264.3 695.8,250.0 697.3,249.1 698.9,248.1 699.1,225.2 699.8,225.2 700.7,243.4 702.2,244.9 703.8,247.2 705.3,248.7 706.4,248.1 707.2,241.5 708.0,241.1 708.7,250.1 709.9,251.0 711.0,249.5 712.2,246.8 713.7,245.7 715.2,245.3 716.7,244.3 717.5,232.9 718.6,231.9 719.8,222.4 720.6,221.4 721.3,252.0 722.8,253.9 724.4,254.8 725.1,259.6 726.3,260.6 727.4,259.0 727.8,248.1 729.0,247.2 729.7,262.5 730.9,263.6 732.0,262.5 732.4,237.6 733.5,236.7 734.7,238.6 736.2,240.5 737.7,241.5 739.3,243.4 740.4,247.2 741.9,248.7 742.7,254.8 743.9,255.8 745.0,254.4 745.4,245.3 746.1,244.9 746.5,289.2 747.7,290.4 748.8,289.2 749.2,231.0 750.4,231.9 751.5,233.8 753.0,234.8 754.2,247.2 754.6,267.2 755.7,268.6 756.8,267.2 757.2,233.8 758.0,233.4 758.4,242.4 759.5,243.4 760.7,242.4 761.0,229.0 762.2,228.5 763.7,228.1" class="edge" stroke-width="0.7"/>
<polygon points="895.6,224.3 897.7,222.6 898.3,189.2 899.7,187.8 901.0,189.2 901.6,211.1 903.1,212.5 903.4,226.2 904.2,226.2 904.8,167.0 906.3,165.7 908.2,166.5 908.8,177.5 909.4,193.8 910.2,194.7 910.9,203.3 912.4,202.0 914.0,203.3 914.7,221.4 916.3,223.3 917.8,227.2 918.9,223.3 920.5,222.6 921.6,223.3 922.0,230.0 923.1,230.0 923.9,217.6 925.0,206.5 926.4,205.6 928.1,206.5 929.2,214.7 930.4,211.5 931.9,210.7 933.1,212.8 934.2,217.6 935.3,221.4 936.5,222.4 936.9,233.8 937.8,233.8 938.4,222.4 940.3,221.0 941.1,194.3 942.6,192.8 944.1,193.8 944.9,211.9 946.8,210.9 948.3,212.8 949.1,219.1 950.6,219.9 951.8,231.4 953.7,232.5 954.2,236.7 955.8,236.7 957.1,231.9 958.6,230.6 959.4,203.9 960.9,202.7 962.1,203.5 963.2,212.8 964.0,217.6 965.3,217.6 965.9,213.4 967.0,212.3 968.2,213.4 968.9,226.2 970.5,227.2 971.6,206.5 972.7,205.4 973.9,206.2 974.7,214.2 976.2,210.4 977.7,209.6 978.9,210.4 979.2,226.2 980.2,226.2 980.8,209.0 982.3,204.3 983.4,203.1 984.6,203.9 985.3,215.7 986.5,216.7 987.6,208.1 989.2,206.9 990.7,208.1 991.5,213.4 993.4,212.8 994.9,212.3 995.6,190.9 997.2,189.7 998.7,190.5 999.5,210.4 1001.0,207.7 1002.1,188.6 1003.7,187.1 1005.2,188.0 1006.0,221.0 1007.5,222.4 1008.2,228.1 1009.6,228.1 1010.2,195.1 1011.7,193.9 1013.2,194.7 1014.0,215.7 1015.9,214.7 1017.0,212.7 1018.5,213.4 1019.7,217.2 1020.8,209.6 1022.0,208.1 1023.1,209.0 1023.9,211.9 1025.4,210.9 1026.6,193.2 1027.7,191.8 1028.5,165.1 1029.8,163.8 1031.1,164.6 1031.9,187.1 1033.4,188.0 1034.2,186.1 1035.3,185.2 1036.5,185.9 1036.9,226.2 1037.8,226.2 1038.4,215.7 1039.9,207.1 1041.5,205.8 1043.0,207.1 1043.7,212.8 1045.3,211.9 1046.4,191.8 1047.9,190.5 1049.1,161.3 1049.1,107.9 1049.7,107.9 1049.7,80.2 1050.6,80.2 1051.0,67.2 1052.3,66.1 1053.7,67.2 1054.2,158.5 1054.2,178.5 1055.6,179.4 1056.3,184.8 1057.5,185.6 1058.2,196.6 1059.0,197.6 1059.8,214.7 1061.7,215.7 1061.9,217.6 1062.1,272.0 1064.4,272.6 1064.5,210.4 1064.7,210.4 1065.9,208.5 1067.4,208.1 1068.5,209.6 1068.9,233.8 1070.1,234.8 1071.2,227.2 1072.4,226.0 1073.5,226.8 1074.3,232.9 1075.4,233.8 1076.2,211.9 1077.3,210.9 1079.6,210.9 1080.4,212.3 1081.1,231.9 1082.7,234.8 1084.2,232.9 1085.7,231.9 1086.5,223.3 1087.6,222.6 1088.8,223.3 1089.5,229.4 1091.5,230.0 1092.2,240.5 1093.7,241.5 1094.5,229.1 1095.6,228.3 1096.8,229.1 1097.2,239.6 1098.1,239.6 1098.7,222.4 1099.8,221.4 1101.4,222.4 1102.5,226.2 1103.3,247.2 1104.8,250.1 1106.3,242.4 1107.5,241.5 1108.2,217.2 1109.4,216.1 1110.9,216.8 1111.7,233.8 1112.8,234.8 1113.2,249.1 1114.2,249.1 1114.7,228.1 1115.9,195.7 1117.0,194.3 1118.2,191.8 1119.3,190.9 1120.5,191.8 1121.2,202.0 1122.7,201.4 1123.9,203.3 1124.7,209.6 1125.2,233.8 1126.4,233.8 1126.9,215.7 1128.1,214.7 1128.9,205.2 1130.0,204.3 1131.1,205.2 1131.9,233.8 1133.8,234.8 1135.0,231.4 1136.1,230.6 1137.3,231.4 1137.8,242.4 1139.2,242.4 1139.9,219.1 1141.1,218.2 1142.6,219.1 1143.0,236.7 1144.1,236.7 1144.9,223.3 1146.0,222.6 1147.2,223.3 1147.9,238.6 1149.5,240.5 1151.0,226.2 1152.5,225.2 1153.3,207.7 1154.4,206.7 1155.6,207.7 1156.3,222.4 1157.9,223.0 1158.2,230.0 1159.2,230.0 1159.8,213.8 1160.9,212.8 1162.4,213.8 1163.2,220.5 1164.7,219.5 1165.5,201.6 1166.6,200.4 1168.2,201.4 1168.5,244.3 1169.5,244.3 1170.1,210.4 1171.2,209.6 1172.4,210.4 1173.1,219.5 1174.7,221.4 1176.2,225.2 1177.7,226.2 1178.9,225.2 1180.0,225.2 1181.1,226.2 1181.9,246.2 1183.4,250.1 1184.6,236.7 1185.3,206.2 1186.5,204.8 1188.0,205.8 1188.8,216.7 1189.9,217.6 1190.7,226.2 1192.2,225.2 1193.7,226.2 1194.1,239.6 1195.1,239.6 1195.6,222.4 1197.2,221.4 1198.3,200.4 1199.8,199.1 1201.4,200.1 1202.1,217.6 1203.3,218.6 1204.0,231.9 1205.6,232.9 1206.7,230.0 1208.6,229.4 1209.0,201.4 1210.5,200.4 1212.1,201.4 1212.4,239.6 1213.4,239.6 1214.0,218.6 1215.1,210.4 1216.3,209.6 1217.4,210.4 1218.2,231.9 1219.7,232.5 1221.6,233.3 1223.1,234.8 1223.9,236.7 1224.7,213.4 1225.8,212.5 1226.9,213.4 1227.7,229.1 1228.9,230.0 1229.2,214.2 1230.4,213.4 1231.5,214.2 1231.9,230.0 1232.7,230.0 1233.1,200.4 1234.4,199.1 1235.7,200.1 1236.1,239.6 1236.9,239.6 1237.3,209.0 1238.4,208.1 1239.9,208.8 1240.7,234.8 1242.2,235.7 1243.7,237.7 1245.3,238.6 1246.8,237.7 1247.9,238.6 1248.5,245.3 1249.7,245.3 1250.2,218.6 1251.8,217.2 1253.3,196.6 1254.8,195.1 1256.3,196.2 1256.7,240.5 1257.7,240.5 1258.2,216.7 1259.4,215.7 1260.5,216.7 1261.3,231.9 1262.8,232.5 1264.4,233.3 1265.9,233.8 1266.3,240.5 1267.2,240.5 1267.8,231.9 1268.9,231.0 1269.7,231.9 1270.5,238.6 1271.6,237.7 1272.7,223.7 1273.9,222.6 1275.0,223.7 1275.8,233.8 1276.4,241.5 1277.5,241.5 1278.1,198.1 1279.2,196.6 1280.4,197.8 1280.8,210.4 1281.9,211.5 1282.7,237.7 1284.2,239.0 1285.7,237.7 1286.9,238.2 1288.0,233.8 1289.2,232.5 1290.3,233.8 1291.1,241.5 1292.6,240.5 1293.4,231.4 1294.5,230.6 1296.0,231.4 1296.8,244.3 1298.3,245.3 1299.8,246.2 1301.0,247.2 1302.1,235.7 1302.9,221.8 1304.0,220.5 1305.6,221.4 1306.0,235.7 1306.9,235.7 1307.5,230.0 1309.0,229.1 1310.5,229.4 1311.7,229.1 1312.8,231.4 1314.4,231.9 1315.5,244.3 1317.0,247.2 1318.5,250.1 1318.9,263.4 1319.9,263.4 1320.5,240.5 1321.2,221.8 1322.4,220.7 1323.9,221.4 1324.7,230.0 1326.2,229.4 1327.3,218.0 1328.5,216.8 1329.6,217.6 1330.0,246.2 1331.0,246.2 1331.5,225.2 1333.1,224.5 1335.0,224.9 1336.9,224.5 1338.4,221.8 1339.9,220.5 1341.5,221.4 1342.2,230.0 1344.1,230.6 1345.6,231.9 1346.2,238.6 1347.2,238.6 1347.6,210.4 1348.7,209.2 1350.2,210.0 1351.0,243.4 1352.5,244.3 1353.7,213.4 1354.8,212.3 1356.0,213.0 1356.7,233.8 1358.2,232.9 1359.8,231.4 1361.3,230.6 1362.4,231.9 1363.6,235.7 1364.7,233.8 1366.3,234.4 1367.4,232.9 1368.2,208.1 1369.3,206.7 1370.5,207.7 1371.2,232.9 1372.4,231.9 1373.1,219.9 1374.3,218.8 1375.4,219.9 1376.2,227.2 1377.3,228.1 1378.1,255.8 1379.2,257.7 1379.6,219.1 1380.8,217.6 1382.3,218.6 1383.1,232.9 1384.2,259.6 1385.7,261.5 1386.9,225.2 1388.0,223.7 1389.5,224.9 1389.9,236.7 1390.7,236.7 1391.1,210.4 1392.2,209.2 1393.7,210.0 1394.5,249.1 1396.0,250.1 1397.2,217.6 1398.3,216.7 1399.8,217.6 1400.6,239.6 1402.5,241.5 1403.7,216.7 1404.8,214.2 1406.0,213.4 1407.1,217.6 1409.0,218.6 1410.9,219.5 1412.1,220.5 1412.4,236.7 1413.6,236.7 1414.4,204.3 1415.9,203.1 1417.4,203.9 1418.2,214.7 1420.1,215.7 1421.6,214.7 1423.1,214.2 1424.7,212.3 1426.2,211.9 1427.7,214.2 1429.2,215.3 1430.0,230.0 1431.5,229.1 1432.7,224.3 1433.8,223.3 1435.0,224.3 1435.7,219.1 1436.9,218.4 1438.0,219.1 1438.8,224.3 1440.3,224.9 1441.5,226.2 1442.6,235.2 1444.1,234.4 1445.3,227.2 1446.4,226.4 1447.9,227.2 1448.3,235.7 1449.1,235.7 1449.5,229.4 1451.0,228.7 1452.9,229.1 1454.8,227.5 1456.3,226.2 1457.9,226.2 1459.0,227.2 1459.8,215.7 1460.9,214.6 1462.1,215.7 1462.4,249.1 1463.4,249.1 1464.0,240.5 1465.5,239.6 1466.6,239.0 1467.4,224.9 1468.5,224.1 1469.7,224.9 1470.1,246.2 1471.0,246.2 1471.6,223.3 1473.1,222.4 1474.3,221.8 1475.0,214.2 1476.2,213.0 1477.7,214.2 1478.5,231.0 1480.1,235.7 1481.6,235.7 1482.2,231.3 1483.7,230.6 1485.3,231.7 1486.0,241.4 1487.2,243.3 1487.6,255.7 1488.3,255.7 1488.7,207.1 1490.2,205.8 1491.7,195.1 1493.3,193.9 1494.8,195.1 1495.6,230.9 1497.1,231.9 1497.9,206.1 1499.4,205.0 1500.5,206.1 1500.9,251.9 1501.9,251.9 1502.4,247.2 1504.0,245.3 1505.5,243.3 1507.0,242.4 1508.2,237.6 1508.9,219.5 1510.4,218.2 1512.0,219.1 1512.7,232.9 1514.3,233.8 1515.0,214.7 1516.5,213.4 1518.1,214.7 1518.8,220.5 1520.4,219.9 1521.5,221.0 1522.3,236.7 1524.2,237.6 1524.9,222.9 1526.5,221.8 1528.0,222.9 1528.8,255.7 1529.5,261.5 1530.9,261.5 1531.4,255.7 1533.0,254.8 1534.5,242.4 1535.6,240.1 1536.8,239.0 1538.3,240.5 1539.8,241.2 1541.3,240.5 1542.1,235.9 1544.0,234.8 1545.5,235.7 1546.7,236.7 1546.7,284.0 1546.3,285.0 1545.9,291.7 1544.8,293.0 1543.6,292.2 1542.9,288.8 1541.7,285.9 1540.6,286.9 1540.2,316.6 1538.7,317.8 1537.1,318.2 1536.0,317.0 1535.6,302.2 1534.5,301.2 1533.0,300.2 1531.8,298.0 1530.3,298.3 1528.8,297.4 1528.0,293.0 1527.2,293.6 1526.8,306.9 1525.7,307.9 1524.6,306.9 1523.8,298.3 1522.3,299.9 1520.7,299.3 1519.2,302.2 1517.7,302.5 1516.2,303.1 1515.8,333.1 1514.3,334.2 1513.1,333.1 1512.7,327.0 1511.2,326.0 1510.1,324.1 1509.7,299.3 1508.5,300.2 1507.8,307.9 1506.6,308.8 1505.9,314.6 1504.3,315.5 1502.8,314.6 1502.0,293.6 1500.9,294.5 1500.1,316.5 1498.6,317.4 1498.2,346.4 1496.7,347.6 1495.6,346.4 1495.2,302.5 1494.4,303.1 1494.0,324.7 1492.5,325.8 1491.4,324.7 1490.6,306.9 1489.8,307.9 1489.1,320.3 1487.6,321.6 1486.0,320.3 1484.9,317.0 1483.4,316.5 1481.8,315.5 1480.3,314.6 1479.4,291.1 1478.5,291.1 1478.1,303.1 1476.9,304.1 1476.2,320.9 1475.0,321.6 1474.7,327.0 1473.1,328.1 1471.6,327.0 1470.8,306.9 1469.7,305.0 1467.8,304.5 1465.9,304.1 1464.4,303.7 1464.0,330.8 1462.4,331.9 1460.9,330.8 1460.2,299.9 1458.6,299.3 1457.1,298.7 1456.7,277.7 1456.0,277.4 1455.6,298.0 1454.0,298.3 1452.1,298.0 1450.6,298.3 1450.2,315.5 1449.1,316.7 1447.9,315.5 1447.2,303.7 1445.6,303.1 1444.5,302.2 1444.1,282.1 1443.0,281.2 1442.2,270.1 1441.1,270.7 1440.7,328.9 1439.5,330.0 1438.4,328.9 1438.0,293.0 1437.3,293.6 1436.5,306.0 1435.0,306.9 1433.4,306.4 1431.9,306.9 1430.8,311.7 1429.2,313.2 1427.7,312.1 1426.9,293.0 1426.2,293.6 1425.4,305.6 1424.3,305.0 1423.5,301.2 1422.4,302.2 1422.0,319.0 1420.8,320.1 1419.7,319.0 1419.3,292.2 1418.5,291.7 1417.8,296.8 1416.6,297.4 1415.1,298.3 1414.0,308.8 1412.4,309.8 1412.1,321.2 1410.5,322.8 1409.0,321.2 1407.9,303.1 1407.5,293.6 1406.3,292.6 1405.9,283.1 1405.4,283.1 1405.2,320.1 1403.7,321.2 1402.1,320.3 1401.8,306.4 1400.6,305.6 1399.5,305.0 1399.0,288.8 1398.4,288.8 1397.9,309.8 1396.8,310.8 1395.3,313.2 1394.1,310.8 1393.4,283.5 1391.8,283.1 1390.3,283.5 1389.5,299.3 1388.4,300.3 1387.3,301.2 1386.9,313.2 1385.3,314.4 1384.2,313.2 1383.4,299.3 1382.7,298.0 1381.5,298.3 1381.1,307.5 1379.6,308.8 1378.1,307.5 1377.3,280.8 1376.6,281.2 1376.2,313.6 1374.7,314.8 1373.5,313.6 1372.7,303.1 1371.2,303.7 1369.7,303.1 1369.2,296.4 1368.8,296.4 1368.5,320.1 1367.4,321.2 1366.3,320.3 1365.5,294.9 1364.4,295.5 1364.0,310.2 1362.4,311.3 1360.9,309.8 1360.2,293.0 1359.0,290.7 1357.5,289.2 1356.0,289.8 1354.4,291.1 1352.9,292.2 1352.1,308.8 1351.0,308.8 1349.5,310.2 1347.9,312.1 1346.4,311.7 1345.6,301.8 1344.5,301.2 1344.1,314.0 1342.6,315.1 1341.5,314.0 1340.7,299.3 1339.5,298.0 1338.0,296.8 1336.9,298.0 1336.5,320.9 1335.0,322.0 1333.8,320.9 1333.4,298.0 1332.7,297.4 1331.5,301.2 1330.0,301.8 1328.5,302.2 1328.1,314.6 1326.6,315.5 1325.4,314.6 1324.7,303.7 1323.1,302.5 1321.6,303.1 1321.2,336.1 1319.7,337.3 1318.5,336.1 1318.2,314.6 1317.0,313.6 1315.5,312.7 1315.0,280.2 1314.6,280.2 1314.4,310.8 1312.8,309.8 1311.3,308.8 1310.2,295.5 1309.0,290.7 1307.9,284.0 1307.1,285.0 1306.3,301.2 1305.2,302.2 1304.4,309.8 1303.7,310.9 1302.5,310.2 1301.8,294.1 1301.0,294.5 1300.2,302.5 1299.1,303.7 1298.3,320.3 1297.2,321.2 1295.6,320.9 1294.1,320.3 1293.7,336.5 1292.2,337.5 1290.7,336.5 1290.2,286.9 1289.8,286.9 1289.5,302.2 1288.4,303.1 1287.3,302.2 1286.5,295.5 1285.3,294.5 1285.0,311.7 1283.4,312.8 1282.3,311.7 1281.9,273.2 1281.1,273.5 1280.0,281.2 1278.9,287.8 1277.7,288.8 1277.3,333.7 1275.8,334.6 1274.3,333.7 1273.5,290.3 1272.4,289.8 1271.2,288.8 1270.8,281.2 1270.2,281.2 1269.7,296.4 1268.5,297.4 1268.2,338.4 1266.6,339.6 1265.1,338.4 1264.4,312.7 1262.8,312.1 1261.3,311.3 1259.8,310.2 1258.2,308.8 1257.5,299.9 1256.3,299.3 1255.6,297.4 1254.4,296.4 1253.7,299.9 1252.1,300.6 1250.2,300.3 1248.3,299.9 1246.8,300.3 1246.4,354.6 1244.9,356.0 1243.7,354.6 1243.4,315.5 1242.2,314.8 1240.7,313.6 1239.9,302.5 1238.8,303.1 1238.4,310.8 1237.3,312.1 1236.1,311.3 1235.3,305.0 1234.2,304.1 1233.7,282.1 1233.1,282.1 1232.7,308.8 1231.5,309.8 1231.1,321.2 1230.0,322.4 1228.9,321.2 1228.1,310.8 1226.6,309.8 1225.8,296.4 1225.0,295.5 1224.3,307.9 1223.1,309.8 1221.6,308.8 1220.8,303.7 1219.7,303.1 1219.2,294.5 1218.6,294.5 1218.2,304.1 1216.6,304.5 1215.1,305.0 1214.4,315.1 1212.8,316.3 1211.7,315.1 1211.3,305.0 1209.8,304.5 1208.2,303.7 1206.7,299.3 1205.2,294.5 1203.7,289.8 1202.9,273.9 1201.8,273.2 1200.6,274.5 1199.8,287.8 1198.7,289.8 1197.2,293.6 1195.6,296.4 1194.1,295.5 1193.4,289.8 1192.2,293.6 1191.1,294.5 1190.3,314.0 1189.2,315.5 1187.6,314.6 1186.5,292.6 1185.7,286.5 1185.0,286.9 1184.2,317.4 1183.1,318.6 1181.9,317.4 1181.5,292.6 1180.7,292.6 1180.0,298.0 1178.9,298.3 1178.5,320.3 1177.3,321.6 1176.2,320.9 1175.4,302.2 1174.3,301.2 1173.5,298.0 1172.4,298.3 1171.2,299.3 1170.5,310.2 1169.3,311.3 1167.8,310.2 1167.0,305.0 1165.5,304.1 1164.0,301.8 1162.4,299.3 1160.9,296.4 1159.4,294.5 1158.6,270.1 1157.9,270.7 1157.1,281.2 1156.0,308.3 1154.4,308.8 1153.7,315.1 1152.5,315.9 1151.0,315.1 1149.5,313.6 1148.7,296.4 1147.9,293.6 1146.8,288.8 1145.6,287.8 1144.9,292.2 1143.4,291.7 1142.6,277.0 1141.5,277.4 1140.3,292.2 1138.8,291.7 1138.0,278.3 1136.9,277.7 1135.7,278.3 1135.3,329.6 1134.2,330.8 1133.1,329.8 1132.7,282.1 1131.5,282.7 1130.0,284.0 1128.9,288.4 1127.3,289.8 1126.2,293.6 1125.0,294.5 1124.3,308.8 1122.7,310.2 1121.2,308.8 1120.5,277.4 1119.7,277.7 1118.5,277.0 1117.0,277.4 1116.3,297.4 1114.7,298.7 1113.2,298.0 1112.1,293.0 1110.5,292.2 1109.4,287.8 1107.9,285.9 1107.1,277.4 1106.3,276.4 1105.6,281.2 1104.4,282.1 1103.7,298.3 1102.5,300.3 1101.4,299.3 1100.6,287.8 1099.5,288.8 1098.7,315.5 1097.6,316.5 1096.4,314.6 1095.6,299.3 1094.5,298.3 1093.0,297.4 1092.2,288.4 1091.5,288.8 1090.7,317.8 1089.2,319.3 1088.0,318.4 1087.3,296.4 1086.1,297.4 1085.3,323.2 1083.8,324.3 1082.7,323.2 1081.9,285.4 1081.1,285.9 1080.4,313.6 1079.6,314.6 1078.9,320.3 1077.7,321.6 1076.6,320.3 1075.8,301.2 1074.3,300.3 1072.7,299.3 1071.2,298.0 1069.7,298.3 1068.9,320.9 1067.4,322.2 1065.9,321.6 1065.1,339.4 1064.0,340.3 1063.6,362.8 1062.4,364.0 1061.3,363.2 1060.5,315.5 1059.8,288.8 1059.0,285.9 1057.5,283.1 1056.0,279.3 1055.2,278.3 1055.2,243.4 1054.2,243.4 1054.2,278.3 1053.3,278.3 1052.7,433.8 1051.0,435.0 1049.3,433.8 1048.7,279.3 1047.6,277.4 1046.8,289.8 1045.3,290.7 1043.7,289.8 1043.0,282.1 1041.8,282.7 1040.3,283.1 1038.8,282.1 1038.0,270.1 1036.9,270.7 1036.5,283.1 1035.3,284.0 1033.8,283.1 1032.9,281.2 1032.7,255.8 1031.7,255.8 1031.5,281.2 1030.4,304.1 1028.5,304.5 1026.9,305.0 1025.4,304.1 1025.0,279.3 1024.4,279.3 1023.9,300.3 1022.7,303.1 1021.2,304.1 1020.5,308.8 1019.3,309.8 1018.5,319.7 1017.0,320.9 1015.9,319.7 1015.1,287.3 1014.4,287.8 1013.6,305.6 1012.4,305.0 1010.9,306.0 1010.2,310.2 1008.6,311.3 1007.1,309.8 1006.3,287.8 1005.2,289.2 1003.7,288.8 1002.9,283.5 1001.8,284.0 1001.0,293.6 999.5,294.1 998.3,292.6 997.6,270.7 996.4,270.1 996.0,258.7 995.1,258.7 994.7,270.1 992.6,270.7 991.8,295.5 990.7,296.4 989.5,297.4 988.4,299.3 986.9,301.2 985.3,303.7 983.8,305.0 982.3,304.1 981.1,294.5 980.4,288.4 979.2,287.8 978.1,288.8 977.3,296.1 975.8,297.4 974.3,296.4 973.5,277.7 972.7,278.3 972.4,309.4 970.8,310.6 969.3,309.8 968.2,306.0 967.0,304.1 965.5,304.5 964.0,303.7 962.4,304.5 960.9,304.1 960.2,290.3 959.0,289.8 957.5,290.7 956.7,309.8 955.6,310.8 954.8,315.5 953.3,317.0 951.8,316.5 951.4,324.1 949.8,325.4 948.3,324.1 947.9,317.0 946.4,315.5 945.6,285.0 944.1,284.0 942.6,283.5 941.5,279.6 940.3,279.3 938.8,280.2 938.0,295.5 936.5,294.5 935.7,288.4 935.0,288.8 933.8,292.2 932.3,291.7 930.8,292.6 930.4,312.1 928.9,313.2 927.3,312.1 926.6,303.7 925.0,302.2 924.3,277.7 923.5,278.3 922.7,292.6 921.2,293.6 920.1,296.4 918.5,298.0 917.0,297.4 916.3,305.0 914.7,306.4 913.2,305.0 912.4,284.0 911.7,281.2 910.5,282.1 909.8,286.9 909.0,306.9 908.4,393.4 906.9,394.5 905.4,393.4 905.2,306.0 904.4,305.0 903.7,290.7 902.5,288.8 902.1,264.9 899.1,264.9 898.7,268.6 895.6,268.2" class="sig"/>
<polyline points="895.6,224.3 897.7,222.6 898.3,189.2 899.7,187.8 901.0,189.2 901.6,211.1 903.1,212.5 903.4,226.2 904.2,226.2 904.8,167.0 906.3,165.7 908.2,166.5 908.8,177.5 909.4,193.8 910.2,194.7 910.9,203.3 912.4,202.0 914.0,203.3 914.7,221.4 916.3,223.3 917.8,227.2 918.9,223.3 920.5,222.6 921.6,223.3 922.0,230.0 923.1,230.0 923.9,217.6 925.0,206.5 926.4,205.6 928.1,206.5 929.2,214.7 930.4,211.5 931.9,210.7 933.1,212.8 934.2,217.6 935.3,221.4 936.5,222.4 936.9,233.8 937.8,233.8 938.4,222.4 940.3,221.0 941.1,194.3 942.6,192.8 944.1,193.8 944.9,211.9 946.8,210.9 948.3,212.8 949.1,219.1 950.6,219.9 951.8,231.4 953.7,232.5 954.2,236.7 955.8,236.7 957.1,231.9 958.6,230.6 959.4,203.9 960.9,202.7 962.1,203.5 963.2,212.8 964.0,217.6 965.3,217.6 965.9,213.4 967.0,212.3 968.2,213.4 968.9,226.2 970.5,227.2 971.6,206.5 972.7,205.4 973.9,206.2 974.7,214.2 976.2,210.4 977.7,209.6 978.9,210.4 979.2,226.2 980.2,226.2 980.8,209.0 982.3,204.3 983.4,203.1 984.6,203.9 985.3,215.7 986.5,216.7 987.6,208.1 989.2,206.9 990.7,208.1 991.5,213.4 993.4,212.8 994.9,212.3 995.6,190.9 997.2,189.7 998.7,190.5 999.5,210.4 1001.0,207.7 1002.1,188.6 1003.7,187.1 1005.2,188.0 1006.0,221.0 1007.5,222.4 1008.2,228.1 1009.6,228.1 1010.2,195.1 1011.7,193.9 1013.2,194.7 1014.0,215.7 1015.9,214.7 1017.0,212.7 1018.5,213.4 1019.7,217.2 1020.8,209.6 1022.0,208.1 1023.1,209.0 1023.9,211.9 1025.4,210.9 1026.6,193.2 1027.7,191.8 1028.5,165.1 1029.8,163.8 1031.1,164.6 1031.9,187.1 1033.4,188.0 1034.2,186.1 1035.3,185.2 1036.5,185.9 1036.9,226.2 1037.8,226.2 1038.4,215.7 1039.9,207.1 1041.5,205.8 1043.0,207.1 1043.7,212.8 1045.3,211.9 1046.4,191.8 1047.9,190.5 1049.1,161.3 1049.1,107.9 1049.7,107.9 1049.7,80.2 1050.6,80.2 1051.0,67.2 1052.3,66.1 1053.7,67.2 1054.2,158.5 1054.2,178.5 1055.6,179.4 1056.3,184.8 1057.5,185.6 1058.2,196.6 1059.0,197.6 1059.8,214.7 1061.7,215.7 1061.9,217.6 1062.1,272.0 1064.4,272.6 1064.5,210.4 1064.7,210.4 1065.9,208.5 1067.4,208.1 1068.5,209.6 1068.9,233.8 1070.1,234.8 1071.2,227.2 1072.4,226.0 1073.5,226.8 1074.3,232.9 1075.4,233.8 1076.2,211.9 1077.3,210.9 1079.6,210.9 1080.4,212.3 1081.1,231.9 1082.7,234.8 1084.2,232.9 1085.7,231.9 1086.5,223.3 1087.6,222.6 1088.8,223.3 1089.5,229.4 1091.5,230.0 1092.2,240.5 1093.7,241.5 1094.5,229.1 1095.6,228.3 1096.8,229.1 1097.2,239.6 1098.1,239.6 1098.7,222.4 1099.8,221.4 1101.4,222.4 1102.5,226.2 1103.3,247.2 1104.8,250.1 1106.3,242.4 1107.5,241.5 1108.2,217.2 1109.4,216.1 1110.9,216.8 1111.7,233.8 1112.8,234.8 1113.2,249.1 1114.2,249.1 1114.7,228.1 1115.9,195.7 1117.0,194.3 1118.2,191.8 1119.3,190.9 1120.5,191.8 1121.2,202.0 1122.7,201.4 1123.9,203.3 1124.7,209.6 1125.2,233.8 1126.4,233.8 1126.9,215.7 1128.1,214.7 1128.9,205.2 1130.0,204.3 1131.1,205.2 1131.9,233.8 1133.8,234.8 1135.0,231.4 1136.1,230.6 1137.3,231.4 1137.8,242.4 1139.2,242.4 1139.9,219.1 1141.1,218.2 1142.6,219.1 1143.0,236.7 1144.1,236.7 1144.9,223.3 1146.0,222.6 1147.2,223.3 1147.9,238.6 1149.5,240.5 1151.0,226.2 1152.5,225.2 1153.3,207.7 1154.4,206.7 1155.6,207.7 1156.3,222.4 1157.9,223.0 1158.2,230.0 1159.2,230.0 1159.8,213.8 1160.9,212.8 1162.4,213.8 1163.2,220.5 1164.7,219.5 1165.5,201.6 1166.6,200.4 1168.2,201.4 1168.5,244.3 1169.5,244.3 1170.1,210.4 1171.2,209.6 1172.4,210.4 1173.1,219.5 1174.7,221.4 1176.2,225.2 1177.7,226.2 1178.9,225.2 1180.0,225.2 1181.1,226.2 1181.9,246.2 1183.4,250.1 1184.6,236.7 1185.3,206.2 1186.5,204.8 1188.0,205.8 1188.8,216.7 1189.9,217.6 1190.7,226.2 1192.2,225.2 1193.7,226.2 1194.1,239.6 1195.1,239.6 1195.6,222.4 1197.2,221.4 1198.3,200.4 1199.8,199.1 1201.4,200.1 1202.1,217.6 1203.3,218.6 1204.0,231.9 1205.6,232.9 1206.7,230.0 1208.6,229.4 1209.0,201.4 1210.5,200.4 1212.1,201.4 1212.4,239.6 1213.4,239.6 1214.0,218.6 1215.1,210.4 1216.3,209.6 1217.4,210.4 1218.2,231.9 1219.7,232.5 1221.6,233.3 1223.1,234.8 1223.9,236.7 1224.7,213.4 1225.8,212.5 1226.9,213.4 1227.7,229.1 1228.9,230.0 1229.2,214.2 1230.4,213.4 1231.5,214.2 1231.9,230.0 1232.7,230.0 1233.1,200.4 1234.4,199.1 1235.7,200.1 1236.1,239.6 1236.9,239.6 1237.3,209.0 1238.4,208.1 1239.9,208.8 1240.7,234.8 1242.2,235.7 1243.7,237.7 1245.3,238.6 1246.8,237.7 1247.9,238.6 1248.5,245.3 1249.7,245.3 1250.2,218.6 1251.8,217.2 1253.3,196.6 1254.8,195.1 1256.3,196.2 1256.7,240.5 1257.7,240.5 1258.2,216.7 1259.4,215.7 1260.5,216.7 1261.3,231.9 1262.8,232.5 1264.4,233.3 1265.9,233.8 1266.3,240.5 1267.2,240.5 1267.8,231.9 1268.9,231.0 1269.7,231.9 1270.5,238.6 1271.6,237.7 1272.7,223.7 1273.9,222.6 1275.0,223.7 1275.8,233.8 1276.4,241.5 1277.5,241.5 1278.1,198.1 1279.2,196.6 1280.4,197.8 1280.8,210.4 1281.9,211.5 1282.7,237.7 1284.2,239.0 1285.7,237.7 1286.9,238.2 1288.0,233.8 1289.2,232.5 1290.3,233.8 1291.1,241.5 1292.6,240.5 1293.4,231.4 1294.5,230.6 1296.0,231.4 1296.8,244.3 1298.3,245.3 1299.8,246.2 1301.0,247.2 1302.1,235.7 1302.9,221.8 1304.0,220.5 1305.6,221.4 1306.0,235.7 1306.9,235.7 1307.5,230.0 1309.0,229.1 1310.5,229.4 1311.7,229.1 1312.8,231.4 1314.4,231.9 1315.5,244.3 1317.0,247.2 1318.5,250.1 1318.9,263.4 1319.9,263.4 1320.5,240.5 1321.2,221.8 1322.4,220.7 1323.9,221.4 1324.7,230.0 1326.2,229.4 1327.3,218.0 1328.5,216.8 1329.6,217.6 1330.0,246.2 1331.0,246.2 1331.5,225.2 1333.1,224.5 1335.0,224.9 1336.9,224.5 1338.4,221.8 1339.9,220.5 1341.5,221.4 1342.2,230.0 1344.1,230.6 1345.6,231.9 1346.2,238.6 1347.2,238.6 1347.6,210.4 1348.7,209.2 1350.2,210.0 1351.0,243.4 1352.5,244.3 1353.7,213.4 1354.8,212.3 1356.0,213.0 1356.7,233.8 1358.2,232.9 1359.8,231.4 1361.3,230.6 1362.4,231.9 1363.6,235.7 1364.7,233.8 1366.3,234.4 1367.4,232.9 1368.2,208.1 1369.3,206.7 1370.5,207.7 1371.2,232.9 1372.4,231.9 1373.1,219.9 1374.3,218.8 1375.4,219.9 1376.2,227.2 1377.3,228.1 1378.1,255.8 1379.2,257.7 1379.6,219.1 1380.8,217.6 1382.3,218.6 1383.1,232.9 1384.2,259.6 1385.7,261.5 1386.9,225.2 1388.0,223.7 1389.5,224.9 1389.9,236.7 1390.7,236.7 1391.1,210.4 1392.2,209.2 1393.7,210.0 1394.5,249.1 1396.0,250.1 1397.2,217.6 1398.3,216.7 1399.8,217.6 1400.6,239.6 1402.5,241.5 1403.7,216.7 1404.8,214.2 1406.0,213.4 1407.1,217.6 1409.0,218.6 1410.9,219.5 1412.1,220.5 1412.4,236.7 1413.6,236.7 1414.4,204.3 1415.9,203.1 1417.4,203.9 1418.2,214.7 1420.1,215.7 1421.6,214.7 1423.1,214.2 1424.7,212.3 1426.2,211.9 1427.7,214.2 1429.2,215.3 1430.0,230.0 1431.5,229.1 1432.7,224.3 1433.8,223.3 1435.0,224.3 1435.7,219.1 1436.9,218.4 1438.0,219.1 1438.8,224.3 1440.3,224.9 1441.5,226.2 1442.6,235.2 1444.1,234.4 1445.3,227.2 1446.4,226.4 1447.9,227.2 1448.3,235.7 1449.1,235.7 1449.5,229.4 1451.0,228.7 1452.9,229.1 1454.8,227.5 1456.3,226.2 1457.9,226.2 1459.0,227.2 1459.8,215.7 1460.9,214.6 1462.1,215.7 1462.4,249.1 1463.4,249.1 1464.0,240.5 1465.5,239.6 1466.6,239.0 1467.4,224.9 1468.5,224.1 1469.7,224.9 1470.1,246.2 1471.0,246.2 1471.6,223.3 1473.1,222.4 1474.3,221.8 1475.0,214.2 1476.2,213.0 1477.7,214.2 1478.5,231.0 1480.1,235.7 1481.6,235.7 1482.2,231.3 1483.7,230.6 1485.3,231.7 1486.0,241.4 1487.2,243.3 1487.6,255.7 1488.3,255.7 1488.7,207.1 1490.2,205.8 1491.7,195.1 1493.3,193.9 1494.8,195.1 1495.6,230.9 1497.1,231.9 1497.9,206.1 1499.4,205.0 1500.5,206.1 1500.9,251.9 1501.9,251.9 1502.4,247.2 1504.0,245.3 1505.5,243.3 1507.0,242.4 1508.2,237.6 1508.9,219.5 1510.4,218.2 1512.0,219.1 1512.7,232.9 1514.3,233.8 1515.0,214.7 1516.5,213.4 1518.1,214.7 1518.8,220.5 1520.4,219.9 1521.5,221.0 1522.3,236.7 1524.2,237.6 1524.9,222.9 1526.5,221.8 1528.0,222.9 1528.8,255.7 1529.5,261.5 1530.9,261.5 1531.4,255.7 1533.0,254.8 1534.5,242.4 1535.6,240.1 1536.8,239.0 1538.3,240.5 1539.8,241.2 1541.3,240.5 1542.1,235.9 1544.0,234.8 1545.5,235.7 1546.7,236.7" class="edge" stroke-width="0.9"/>
<polyline points="895.6,268.2 898.7,268.6 899.1,264.9 902.1,264.9 902.5,288.8 903.7,290.7 904.4,305.0 905.2,306.0 905.4,393.4 906.9,394.5 908.4,393.4 909.0,306.9 909.8,286.9 910.5,282.1 911.7,281.2 912.4,284.0 913.2,305.0 914.7,306.4 916.3,305.0 917.0,297.4 918.5,298.0 920.1,296.4 921.2,293.6 922.7,292.6 923.5,278.3 924.3,277.7 925.0,302.2 926.6,303.7 927.3,312.1 928.9,313.2 930.4,312.1 930.8,292.6 932.3,291.7 933.8,292.2 935.0,288.8 935.7,288.4 936.5,294.5 938.0,295.5 938.8,280.2 940.3,279.3 941.5,279.6 942.6,283.5 944.1,284.0 945.6,285.0 946.4,315.5 947.9,317.0 948.3,324.1 949.8,325.4 951.4,324.1 951.8,316.5 953.3,317.0 954.8,315.5 955.6,310.8 956.7,309.8 957.5,290.7 959.0,289.8 960.2,290.3 960.9,304.1 962.4,304.5 964.0,303.7 965.5,304.5 967.0,304.1 968.2,306.0 969.3,309.8 970.8,310.6 972.4,309.4 972.7,278.3 973.5,277.7 974.3,296.4 975.8,297.4 977.3,296.1 978.1,288.8 979.2,287.8 980.4,288.4 981.1,294.5 982.3,304.1 983.8,305.0 985.3,303.7 986.9,301.2 988.4,299.3 989.5,297.4 990.7,296.4 991.8,295.5 992.6,270.7 994.7,270.1 995.1,258.7 996.0,258.7 996.4,270.1 997.6,270.7 998.3,292.6 999.5,294.1 1001.0,293.6 1001.8,284.0 1002.9,283.5 1003.7,288.8 1005.2,289.2 1006.3,287.8 1007.1,309.8 1008.6,311.3 1010.2,310.2 1010.9,306.0 1012.4,305.0 1013.6,305.6 1014.4,287.8 1015.1,287.3 1015.9,319.7 1017.0,320.9 1018.5,319.7 1019.3,309.8 1020.5,308.8 1021.2,304.1 1022.7,303.1 1023.9,300.3 1024.4,279.3 1025.0,279.3 1025.4,304.1 1026.9,305.0 1028.5,304.5 1030.4,304.1 1031.5,281.2 1031.7,255.8 1032.7,255.8 1032.9,281.2 1033.8,283.1 1035.3,284.0 1036.5,283.1 1036.9,270.7 1038.0,270.1 1038.8,282.1 1040.3,283.1 1041.8,282.7 1043.0,282.1 1043.7,289.8 1045.3,290.7 1046.8,289.8 1047.6,277.4 1048.7,279.3 1049.3,433.8 1051.0,435.0 1052.7,433.8 1053.3,278.3 1054.2,278.3 1054.2,243.4 1055.2,243.4 1055.2,278.3 1056.0,279.3 1057.5,283.1 1059.0,285.9 1059.8,288.8 1060.5,315.5 1061.3,363.2 1062.4,364.0 1063.6,362.8 1064.0,340.3 1065.1,339.4 1065.9,321.6 1067.4,322.2 1068.9,320.9 1069.7,298.3 1071.2,298.0 1072.7,299.3 1074.3,300.3 1075.8,301.2 1076.6,320.3 1077.7,321.6 1078.9,320.3 1079.6,314.6 1080.4,313.6 1081.1,285.9 1081.9,285.4 1082.7,323.2 1083.8,324.3 1085.3,323.2 1086.1,297.4 1087.3,296.4 1088.0,318.4 1089.2,319.3 1090.7,317.8 1091.5,288.8 1092.2,288.4 1093.0,297.4 1094.5,298.3 1095.6,299.3 1096.4,314.6 1097.6,316.5 1098.7,315.5 1099.5,288.8 1100.6,287.8 1101.4,299.3 1102.5,300.3 1103.7,298.3 1104.4,282.1 1105.6,281.2 1106.3,276.4 1107.1,277.4 1107.9,285.9 1109.4,287.8 1110.5,292.2 1112.1,293.0 1113.2,298.0 1114.7,298.7 1116.3,297.4 1117.0,277.4 1118.5,277.0 1119.7,277.7 1120.5,277.4 1121.2,308.8 1122.7,310.2 1124.3,308.8 1125.0,294.5 1126.2,293.6 1127.3,289.8 1128.9,288.4 1130.0,284.0 1131.5,282.7 1132.7,282.1 1133.1,329.8 1134.2,330.8 1135.3,329.6 1135.7,278.3 1136.9,277.7 1138.0,278.3 1138.8,291.7 1140.3,292.2 1141.5,277.4 1142.6,277.0 1143.4,291.7 1144.9,292.2 1145.6,287.8 1146.8,288.8 1147.9,293.6 1148.7,296.4 1149.5,313.6 1151.0,315.1 1152.5,315.9 1153.7,315.1 1154.4,308.8 1156.0,308.3 1157.1,281.2 1157.9,270.7 1158.6,270.1 1159.4,294.5 1160.9,296.4 1162.4,299.3 1164.0,301.8 1165.5,304.1 1167.0,305.0 1167.8,310.2 1169.3,311.3 1170.5,310.2 1171.2,299.3 1172.4,298.3 1173.5,298.0 1174.3,301.2 1175.4,302.2 1176.2,320.9 1177.3,321.6 1178.5,320.3 1178.9,298.3 1180.0,298.0 1180.7,292.6 1181.5,292.6 1181.9,317.4 1183.1,318.6 1184.2,317.4 1185.0,286.9 1185.7,286.5 1186.5,292.6 1187.6,314.6 1189.2,315.5 1190.3,314.0 1191.1,294.5 1192.2,293.6 1193.4,289.8 1194.1,295.5 1195.6,296.4 1197.2,293.6 1198.7,289.8 1199.8,287.8 1200.6,274.5 1201.8,273.2 1202.9,273.9 1203.7,289.8 1205.2,294.5 1206.7,299.3 1208.2,303.7 1209.8,304.5 1211.3,305.0 1211.7,315.1 1212.8,316.3 1214.4,315.1 1215.1,305.0 1216.6,304.5 1218.2,304.1 1218.6,294.5 1219.2,294.5 1219.7,303.1 1220.8,303.7 1221.6,308.8 1223.1,309.8 1224.3,307.9 1225.0,295.5 1225.8,296.4 1226.6,309.8 1228.1,310.8 1228.9,321.2 1230.0,322.4 1231.1,321.2 1231.5,309.8 1232.7,308.8 1233.1,282.1 1233.7,282.1 1234.2,304.1 1235.3,305.0 1236.1,311.3 1237.3,312.1 1238.4,310.8 1238.8,303.1 1239.9,302.5 1240.7,313.6 1242.2,314.8 1243.4,315.5 1243.7,354.6 1244.9,356.0 1246.4,354.6 1246.8,300.3 1248.3,299.9 1250.2,300.3 1252.1,300.6 1253.7,299.9 1254.4,296.4 1255.6,297.4 1256.3,299.3 1257.5,299.9 1258.2,308.8 1259.8,310.2 1261.3,311.3 1262.8,312.1 1264.4,312.7 1265.1,338.4 1266.6,339.6 1268.2,338.4 1268.5,297.4 1269.7,296.4 1270.2,281.2 1270.8,281.2 1271.2,288.8 1272.4,289.8 1273.5,290.3 1274.3,333.7 1275.8,334.6 1277.3,333.7 1277.7,288.8 1278.9,287.8 1280.0,281.2 1281.1,273.5 1281.9,273.2 1282.3,311.7 1283.4,312.8 1285.0,311.7 1285.3,294.5 1286.5,295.5 1287.3,302.2 1288.4,303.1 1289.5,302.2 1289.8,286.9 1290.2,286.9 1290.7,336.5 1292.2,337.5 1293.7,336.5 1294.1,320.3 1295.6,320.9 1297.2,321.2 1298.3,320.3 1299.1,303.7 1300.2,302.5 1301.0,294.5 1301.8,294.1 1302.5,310.2 1303.7,310.9 1304.4,309.8 1305.2,302.2 1306.3,301.2 1307.1,285.0 1307.9,284.0 1309.0,290.7 1310.2,295.5 1311.3,308.8 1312.8,309.8 1314.4,310.8 1314.6,280.2 1315.0,280.2 1315.5,312.7 1317.0,313.6 1318.2,314.6 1318.5,336.1 1319.7,337.3 1321.2,336.1 1321.6,303.1 1323.1,302.5 1324.7,303.7 1325.4,314.6 1326.6,315.5 1328.1,314.6 1328.5,302.2 1330.0,301.8 1331.5,301.2 1332.7,297.4 1333.4,298.0 1333.8,320.9 1335.0,322.0 1336.5,320.9 1336.9,298.0 1338.0,296.8 1339.5,298.0 1340.7,299.3 1341.5,314.0 1342.6,315.1 1344.1,314.0 1344.5,301.2 1345.6,301.8 1346.4,311.7 1347.9,312.1 1349.5,310.2 1351.0,308.8 1352.1,308.8 1352.9,292.2 1354.4,291.1 1356.0,289.8 1357.5,289.2 1359.0,290.7 1360.2,293.0 1360.9,309.8 1362.4,311.3 1364.0,310.2 1364.4,295.5 1365.5,294.9 1366.3,320.3 1367.4,321.2 1368.5,320.1 1368.8,296.4 1369.2,296.4 1369.7,303.1 1371.2,303.7 1372.7,303.1 1373.5,313.6 1374.7,314.8 1376.2,313.6 1376.6,281.2 1377.3,280.8 1378.1,307.5 1379.6,308.8 1381.1,307.5 1381.5,298.3 1382.7,298.0 1383.4,299.3 1384.2,313.2 1385.3,314.4 1386.9,313.2 1387.3,301.2 1388.4,300.3 1389.5,299.3 1390.3,283.5 1391.8,283.1 1393.4,283.5 1394.1,310.8 1395.3,313.2 1396.8,310.8 1397.9,309.8 1398.4,288.8 1399.0,288.8 1399.5,305.0 1400.6,305.6 1401.8,306.4 1402.1,320.3 1403.7,321.2 1405.2,320.1 1405.4,283.1 1405.9,283.1 1406.3,292.6 1407.5,293.6 1407.9,303.1 1409.0,321.2 1410.5,322.8 1412.1,321.2 1412.4,309.8 1414.0,308.8 1415.1,298.3 1416.6,297.4 1417.8,296.8 1418.5,291.7 1419.3,292.2 1419.7,319.0 1420.8,320.1 1422.0,319.0 1422.4,302.2 1423.5,301.2 1424.3,305.0 1425.4,305.6 1426.2,293.6 1426.9,293.0 1427.7,312.1 1429.2,313.2 1430.8,311.7 1431.9,306.9 1433.4,306.4 1435.0,306.9 1436.5,306.0 1437.3,293.6 1438.0,293.0 1438.4,328.9 1439.5,330.0 1440.7,328.9 1441.1,270.7 1442.2,270.1 1443.0,281.2 1444.1,282.1 1444.5,302.2 1445.6,303.1 1447.2,303.7 1447.9,315.5 1449.1,316.7 1450.2,315.5 1450.6,298.3 1452.1,298.0 1454.0,298.3 1455.6,298.0 1456.0,277.4 1456.7,277.7 1457.1,298.7 1458.6,299.3 1460.2,299.9 1460.9,330.8 1462.4,331.9 1464.0,330.8 1464.4,303.7 1465.9,304.1 1467.8,304.5 1469.7,305.0 1470.8,306.9 1471.6,327.0 1473.1,328.1 1474.7,327.0 1475.0,321.6 1476.2,320.9 1476.9,304.1 1478.1,303.1 1478.5,291.1 1479.4,291.1 1480.3,314.6 1481.8,315.5 1483.4,316.5 1484.9,317.0 1486.0,320.3 1487.6,321.6 1489.1,320.3 1489.8,307.9 1490.6,306.9 1491.4,324.7 1492.5,325.8 1494.0,324.7 1494.4,303.1 1495.2,302.5 1495.6,346.4 1496.7,347.6 1498.2,346.4 1498.6,317.4 1500.1,316.5 1500.9,294.5 1502.0,293.6 1502.8,314.6 1504.3,315.5 1505.9,314.6 1506.6,308.8 1507.8,307.9 1508.5,300.2 1509.7,299.3 1510.1,324.1 1511.2,326.0 1512.7,327.0 1513.1,333.1 1514.3,334.2 1515.8,333.1 1516.2,303.1 1517.7,302.5 1519.2,302.2 1520.7,299.3 1522.3,299.9 1523.8,298.3 1524.6,306.9 1525.7,307.9 1526.8,306.9 1527.2,293.6 1528.0,293.0 1528.8,297.4 1530.3,298.3 1531.8,298.0 1533.0,300.2 1534.5,301.2 1535.6,302.2 1536.0,317.0 1537.1,318.2 1538.7,317.8 1540.2,316.6 1540.6,286.9 1541.7,285.9 1542.9,288.8 1543.6,292.2 1544.8,293.0 1545.9,291.7 1546.3,285.0 1546.7,284.0" class="edge" stroke-width="0.7"/>
<rect x="954.4" y="238.0" width="2.0" height="5.6" rx="0.8" fill="#ffffff"/>
<rect x="250.4" y="203.4" width="1.9" height="4.6" rx="0.8" fill="#ffffff"/>
<rect x="577.0" y="207.0" width="1.0" height="9.0" rx="0.5" fill="#ffffff" opacity="0.8"/>
<line x1="113.60" y1="454.8" x2="113.60" y2="462.00" class="tk"/>
<text x="114.70" y="481.0" text-anchor="middle" class="tn">0</text>
<line x1="232.22" y1="454.8" x2="232.22" y2="462.00" class="tk"/>
<text x="232.22" y="481.0" text-anchor="middle" class="tn">1</text>
<line x1="350.84" y1="454.8" x2="350.84" y2="462.00" class="tk"/>
<text x="350.84" y="481.0" text-anchor="middle" class="tn">2</text>
<line x1="469.46" y1="454.8" x2="469.46" y2="462.00" class="tk"/>
<text x="469.46" y="481.0" text-anchor="middle" class="tn">3</text>
<line x1="588.08" y1="454.8" x2="588.08" y2="462.00" class="tk"/>
<text x="589.38" y="481.0" text-anchor="middle" class="tn">4</text>
<line x1="706.70" y1="454.8" x2="706.70" y2="462.00" class="tk"/>
<text x="706.70" y="481.0" text-anchor="middle" class="tn">5</text>
<line x1="74.40" y1="57.56" x2="81.6" y2="57.56" class="tk"/>
<text x="67.00" y="65.06" text-anchor="end" class="tn">15</text>
<line x1="74.40" y1="125.56" x2="81.6" y2="125.56" class="tk"/>
<text x="67.00" y="132.16" text-anchor="end" class="tn">14</text>
<line x1="74.40" y1="193.56" x2="81.6" y2="193.56" class="tk"/>
<text x="67.00" y="200.16" text-anchor="end" class="tn">13</text>
<line x1="74.40" y1="261.56" x2="81.6" y2="261.56" class="tk"/>
<text x="67.00" y="268.16" text-anchor="end" class="tn">12</text>
<line x1="74.40" y1="329.56" x2="81.6" y2="329.56" class="tk"/>
<text x="67.00" y="336.16" text-anchor="end" class="tn">11</text>
<line x1="74.40" y1="397.56" x2="81.6" y2="397.56" class="tk"/>
<text x="67.00" y="404.16" text-anchor="end" class="tn">10</text>
<rect x="81.6" y="48.2" width="713.40" height="406.60" class="sp"/>
<text x="437.60" y="36.6" text-anchor="middle" class="tt">Pitch - 5s IMU Data</text>
<text x="437.70" y="507.8" text-anchor="middle" class="tl">Time (s)</text>
<text transform="translate(33.1,253.2) rotate(-90)" text-anchor="middle" class="tl">Degrees</text>
<line x1="897.50" y1="454.8" x2="897.50" y2="462.00" class="tk"/>
<text x="898.60" y="481.0" text-anchor="middle" class="tn">0</text>
<line x1="1016.12" y1="454.8" x2="1016.12" y2="462.00" class="tk"/>
<text x="1016.12" y="481.0" text-anchor="middle" class="tn">1</text>
<line x1="1134.74" y1="454.8" x2="1134.74" y2="462.00" class="tk"/>
<text x="1134.74" y="481.0" text-anchor="middle" class="tn">2</text>
<line x1="1253.36" y1="454.8" x2="1253.36" y2="462.00" class="tk"/>
<text x="1253.36" y="481.0" text-anchor="middle" class="tn">3</text>
<line x1="1371.98" y1="454.8" x2="1371.98" y2="462.00" class="tk"/>
<text x="1373.28" y="481.0" text-anchor="middle" class="tn">4</text>
<line x1="1490.60" y1="454.8" x2="1490.60" y2="462.00" class="tk"/>
<text x="1490.60" y="481.0" text-anchor="middle" class="tn">5</text>
<line x1="858.40" y1="77.56" x2="865.6" y2="77.56" class="tk"/>
<text x="852.40" y="84.16" text-anchor="end" class="tn">7</text>
<line x1="858.40" y1="142.35" x2="865.6" y2="142.35" class="tk"/>
<text x="852.40" y="148.95" text-anchor="end" class="tn">6</text>
<line x1="858.40" y1="207.14" x2="865.6" y2="207.14" class="tk"/>
<text x="852.40" y="213.74" text-anchor="end" class="tn">5</text>
<line x1="858.40" y1="271.93" x2="865.6" y2="271.93" class="tk"/>
<text x="852.40" y="278.53" text-anchor="end" class="tn">4</text>
<line x1="858.40" y1="336.72" x2="865.6" y2="336.72" class="tk"/>
<text x="852.40" y="343.32" text-anchor="end" class="tn">3</text>
<line x1="858.40" y1="401.51" x2="865.6" y2="401.51" class="tk"/>
<text x="852.40" y="408.11" text-anchor="end" class="tn">2</text>
<rect x="865.6" y="48.2" width="713.40" height="406.60" class="sp"/>
<text x="1221.60" y="36.6" text-anchor="middle" class="tt">Roll - 5s IMU Data</text>
<text x="1221.70" y="507.8" text-anchor="middle" class="tl">Time (s)</text>
<text transform="translate(829.0,253.2) rotate(-90)" text-anchor="middle" class="tl">Degrees</text>
</svg>
</body></html>
